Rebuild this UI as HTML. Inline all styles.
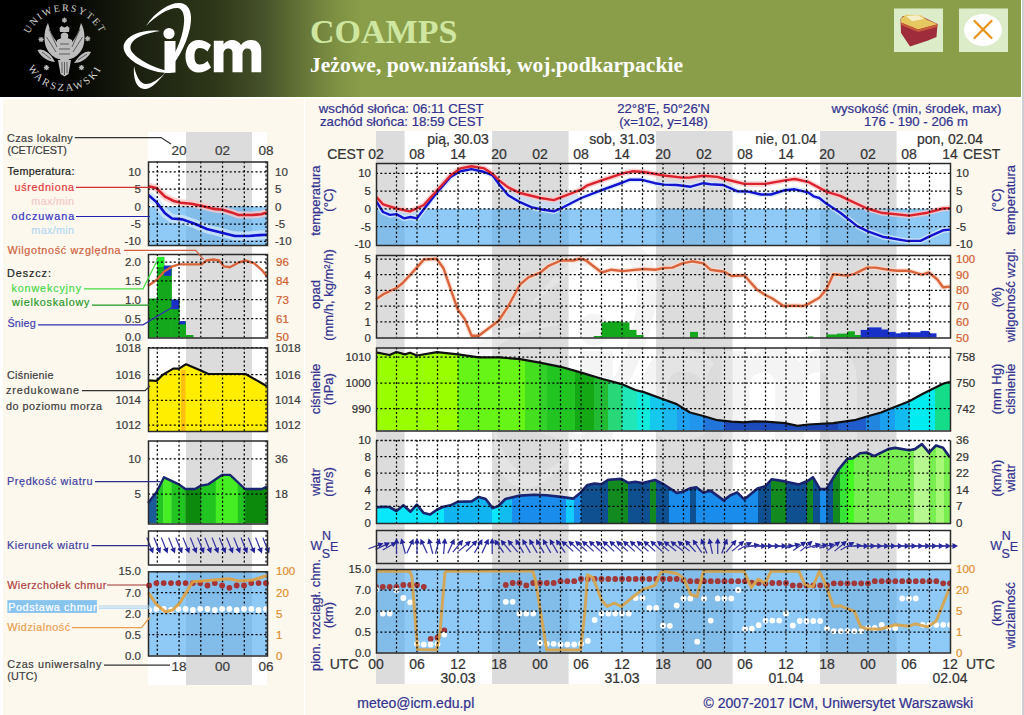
<!DOCTYPE html><html><head><meta charset="utf-8"><style>html,body{margin:0;padding:0;background:#fff;width:1024px;height:715px;overflow:hidden}svg{display:block}</style></head><body>
<svg width="1024" height="715" viewBox="0 0 1024 715">
<rect x="0.00" y="0.00" width="1024.00" height="715.00" fill="#ffffff" />
<rect x="3.00" y="99.00" width="1018.00" height="616.00" fill="#fcf8ee" />
<line x1="304.5" y1="99" x2="304.5" y2="715" stroke="#ffffff" stroke-width="1"/>
<rect x="1022.00" y="0.00" width="2.00" height="715.00" fill="#cfcfcf" />
<defs><linearGradient id="hg" x1="0" y1="0" x2="1021" y2="0" gradientUnits="userSpaceOnUse"><stop offset="0.0000" stop-color="#000"/><stop offset="0.0548" stop-color="#000"/><stop offset="0.1469" stop-color="#1e2412"/><stop offset="0.2125" stop-color="#2f3819"/><stop offset="0.2586" stop-color="#46522a"/><stop offset="0.2889" stop-color="#606f35"/><stop offset="0.3271" stop-color="#7d8f42"/><stop offset="0.3546" stop-color="#8a9e4a"/><stop offset="1.0000" stop-color="#8a9e4a"/></linearGradient></defs>
<rect x="0" y="0" width="1021" height="97" fill="url(#hg)"/>
<rect x="376.00" y="131.00" width="574.00" height="553.00" fill="#ffffff" />
<rect x="376.00" y="131.00" width="28.58" height="553.00" fill="#dcdcdc" />
<rect x="492.05" y="131.00" width="76.53" height="553.00" fill="#dcdcdc" />
<rect x="656.05" y="131.00" width="76.53" height="553.00" fill="#dcdcdc" />
<rect x="820.05" y="131.00" width="76.53" height="553.00" fill="#dcdcdc" />
<rect x="148.00" y="132.00" width="119.00" height="553.00" fill="#ffffff" />
<rect x="186.00" y="132.00" width="66.00" height="553.00" fill="#dcdcdc" />
<g transform="translate(112.5,234.35) scale(2.85)" fill="#ebebeb" fill-opacity="0.55"><path d="M 146,26 C 156,10 172,2 180,3 C 190,4 193,14 190,28 C 186,46 176,64 164,74 C 170,62 180,46 183,30 C 186,16 183,8 177,8 C 168,8 156,16 146,26 Z"/><path d="M 165,73 C 158,82 150,90 144,89 C 136,88 133,78 134,66 C 136,76 140,84 146,84 C 152,84 159,79 165,73 Z"/><path d="M 160,31 C 145,29 128,34 124,44 C 121,54 134,66 158,72 C 164,73 170,73 175,73 C 160,70 140,62 132,52 C 127,44 134,35 160,31 Z"/><circle cx="169" cy="33.5" r="5.6"/><rect x="164.5" y="41" width="11" height="31.5"/><path d="M 211,45 C 207,41.5 203,40 198.5,40 C 190,40 185.5,47.5 185.5,56.2 C 185.5,65 190,72.5 198.5,72.5 C 203,72.5 207,71 211,67.5 L 207.5,61 C 205,63.5 202.5,64.5 199.5,64.5 C 195.5,64.5 194.5,60 194.5,56.2 C 194.5,52.5 195.5,48 199.5,48 C 202.5,48 205,49 207.5,51.5 Z"/><path d="M 213.8,72.3 L 213.8,40.8 L 223.5,40.8 L 223.5,44.5 C 225.5,41.5 228.5,40 232,40 C 236,40 239.5,42 241,45 C 243.5,41.5 247,40 251,40 C 257.5,40 261.2,44.5 261.2,51 L 261.2,72.3 L 251.5,72.3 L 251.5,53 C 251.5,50 250,48.5 247.5,48.5 C 244.5,48.5 242.5,50.5 242.5,54 L 242.5,72.3 L 232.5,72.3 L 232.5,53 C 232.5,50 231,48.5 228.5,48.5 C 225.5,48.5 223.5,50.5 223.5,54 L 223.5,72.3 Z"/></g>
<clipPath id="cT"><rect x="376.0" y="163" width="574.0" height="82"/></clipPath>
<g clip-path="url(#cT)">
<rect x="376.0" y="208.8" width="574.0" height="36.2" fill="#4aa8f0" fill-opacity="0.62"/>
<polygon points="376.0,198.1 378.0,200.3 380.0,202.5 382.0,204.7 384.0,206.1 386.0,206.7 388.0,207.4 390.0,208.0 392.0,208.6 394.0,209.2 396.0,209.9 398.0,210.3 400.0,210.8 402.0,211.2 404.0,211.6 406.0,212.0 408.0,212.4 410.0,212.7 412.0,211.9 414.0,211.1 416.0,210.3 418.0,209.4 420.0,208.4 422.0,207.4 424.0,206.3 424.0,208.9 422.0,211.6 420.0,214.2 418.0,216.8 416.0,218.2 414.0,217.8 412.0,217.3 410.0,217.1 408.0,217.5 406.0,218.0 404.0,218.3 402.0,217.2 400.0,216.1 398.0,215.0 396.0,214.2 394.0,214.4 392.0,214.7 390.0,214.9 388.0,214.1 386.0,213.2 384.0,212.4 382.0,210.4 380.0,207.2 378.0,204.0 376.0,200.8" fill="#c4def6" fill-opacity="0.75"/>
<polygon points="500.0,182.7 503.2,185.1 506.5,187.6 509.8,189.6 513.0,191.2 516.2,192.7 519.5,194.3 522.8,195.2 526.0,196.0 529.2,196.8 532.5,197.6 535.8,198.4 539.0,199.2 542.2,199.8 545.5,200.3 548.8,200.8 552.0,201.3 555.2,201.0 558.5,199.7 561.8,198.4 565.0,197.2 568.2,196.0 571.5,194.7 574.8,193.5 578.0,192.2 578.0,199.6 574.8,201.3 571.5,203.0 568.2,204.7 565.0,206.3 561.8,208.0 558.5,209.4 555.2,210.7 552.0,211.0 548.8,210.5 545.5,210.0 542.2,209.5 539.0,208.9 535.8,208.1 532.5,207.4 529.2,206.2 526.0,204.8 522.8,203.4 519.5,201.9 516.2,200.0 513.0,198.0 509.8,196.1 506.5,193.2 503.2,189.4 500.0,185.5" fill="#c4def6" fill-opacity="0.75"/>
<polyline points="376.0,200.8 383.0,212.0 390.0,214.9 396.4,214.1 404.1,218.4 410.5,217.0 416.8,218.4 423.8,209.2 437.2,192.3 450.5,176.9 460.4,171.3 471.6,169.1 484.3,172.0 492.7,175.5 499.8,185.3 508.2,195.2 520.0,202.2 531.3,207.1 540.4,209.2 553.8,211.3 560.8,208.5 581.2,198.0 601.6,190.2 622.7,182.5 629.7,179.7 641.0,179.7 655.0,183.2 664.0,184.6 676.7,185.0 690.7,186.7 703.4,183.2 710.4,184.2 723.1,185.0 737.1,191.2 748.4,191.6 761.0,194.5 770.9,194.5 785.0,190.2 794.8,189.3 808.0,192.3 813.6,196.3 819.3,198.0 826.3,203.6 840.3,212.7 857.2,226.1 868.5,231.7 882.5,236.7 906.5,240.9 920.5,240.9 929.0,236.7 943.0,230.3 950.0,229.6" fill="none" stroke="#d4e8fb" stroke-opacity="0.8" stroke-width="5.5" stroke-linejoin="round"/>
<polyline points="376.0,196.6 383.0,204.3 396.4,208.5 409.8,211.3 416.8,208.5 423.8,205.0 437.2,190.2 450.5,175.5 460.4,168.4 471.6,166.3 484.3,168.4 492.7,174.0 499.8,181.0 508.2,187.4 520.0,193.0 540.4,198.0 553.8,200.1 560.8,197.3 581.2,189.5 587.5,185.3 601.6,180.4 622.7,173.4 632.5,171.3 643.8,172.0 664.0,175.5 682.3,177.6 689.3,177.6 703.4,175.8 717.4,176.9 724.5,179.0 744.2,183.9 765.3,183.9 785.0,180.4 794.8,179.0 808.0,181.8 826.3,191.6 840.3,195.9 847.4,199.4 867.1,208.5 881.1,212.7 909.3,215.6 927.5,212.7 943.0,208.5 950.0,208.1" fill="none" stroke="#f9c8c8" stroke-opacity="0.8" stroke-width="5.5" stroke-linejoin="round"/>
<polyline points="376.0,200.8 383.0,212.0 390.0,214.9 396.4,214.1 404.1,218.4 410.5,217.0 416.8,218.4 423.8,209.2 437.2,192.3 450.5,176.9 460.4,171.3 471.6,169.1 484.3,172.0 492.7,175.5 499.8,185.3 508.2,195.2 520.0,202.2 531.3,207.1 540.4,209.2 553.8,211.3 560.8,208.5 581.2,198.0 601.6,190.2 622.7,182.5 629.7,179.7 641.0,179.7 655.0,183.2 664.0,184.6 676.7,185.0 690.7,186.7 703.4,183.2 710.4,184.2 723.1,185.0 737.1,191.2 748.4,191.6 761.0,194.5 770.9,194.5 785.0,190.2 794.8,189.3 808.0,192.3 813.6,196.3 819.3,198.0 826.3,203.6 840.3,212.7 857.2,226.1 868.5,231.7 882.5,236.7 906.5,240.9 920.5,240.9 929.0,236.7 943.0,230.3 950.0,229.6" fill="none" stroke="#1414d0" stroke-width="2.4" stroke-linejoin="round"/>
<polyline points="376.0,196.6 383.0,204.3 396.4,208.5 409.8,211.3 416.8,208.5 423.8,205.0 437.2,190.2 450.5,175.5 460.4,168.4 471.6,166.3 484.3,168.4 492.7,174.0 499.8,181.0 508.2,187.4 520.0,193.0 540.4,198.0 553.8,200.1 560.8,197.3 581.2,189.5 587.5,185.3 601.6,180.4 622.7,173.4 632.5,171.3 643.8,172.0 664.0,175.5 682.3,177.6 689.3,177.6 703.4,175.8 717.4,176.9 724.5,179.0 744.2,183.9 765.3,183.9 785.0,180.4 794.8,179.0 808.0,181.8 826.3,191.6 840.3,195.9 847.4,199.4 867.1,208.5 881.1,212.7 909.3,215.6 927.5,212.7 943.0,208.5 950.0,208.1" fill="none" stroke="#dc2430" stroke-width="2.4" stroke-linejoin="round"/>
</g>
<line x1="396.50" y1="163" x2="396.50" y2="245" stroke="#000" stroke-width="1.25" stroke-dasharray="2,2.3"/>
<line x1="417.00" y1="163" x2="417.00" y2="245" stroke="#000" stroke-width="1.25" stroke-dasharray="2,2.3"/>
<line x1="437.50" y1="163" x2="437.50" y2="245" stroke="#000" stroke-width="1.25" stroke-dasharray="2,2.3"/>
<line x1="458.00" y1="163" x2="458.00" y2="245" stroke="#000" stroke-width="1.25" stroke-dasharray="2,2.3"/>
<line x1="478.50" y1="163" x2="478.50" y2="245" stroke="#000" stroke-width="1.25" stroke-dasharray="2,2.3"/>
<line x1="499.00" y1="163" x2="499.00" y2="245" stroke="#000" stroke-width="1.25" stroke-dasharray="2,2.3"/>
<line x1="519.50" y1="163" x2="519.50" y2="245" stroke="#000" stroke-width="1.25" stroke-dasharray="2,2.3"/>
<line x1="540.00" y1="163" x2="540.00" y2="245" stroke="#000" stroke-width="1.25" stroke-dasharray="2,2.3"/>
<line x1="560.50" y1="163" x2="560.50" y2="245" stroke="#000" stroke-width="1.25" stroke-dasharray="2,2.3"/>
<line x1="581.00" y1="163" x2="581.00" y2="245" stroke="#000" stroke-width="1.25" stroke-dasharray="2,2.3"/>
<line x1="601.50" y1="163" x2="601.50" y2="245" stroke="#000" stroke-width="1.25" stroke-dasharray="2,2.3"/>
<line x1="622.00" y1="163" x2="622.00" y2="245" stroke="#000" stroke-width="1.25" stroke-dasharray="2,2.3"/>
<line x1="642.50" y1="163" x2="642.50" y2="245" stroke="#000" stroke-width="1.25" stroke-dasharray="2,2.3"/>
<line x1="663.00" y1="163" x2="663.00" y2="245" stroke="#000" stroke-width="1.25" stroke-dasharray="2,2.3"/>
<line x1="683.50" y1="163" x2="683.50" y2="245" stroke="#000" stroke-width="1.25" stroke-dasharray="2,2.3"/>
<line x1="704.00" y1="163" x2="704.00" y2="245" stroke="#000" stroke-width="1.25" stroke-dasharray="2,2.3"/>
<line x1="724.50" y1="163" x2="724.50" y2="245" stroke="#000" stroke-width="1.25" stroke-dasharray="2,2.3"/>
<line x1="745.00" y1="163" x2="745.00" y2="245" stroke="#000" stroke-width="1.25" stroke-dasharray="2,2.3"/>
<line x1="765.50" y1="163" x2="765.50" y2="245" stroke="#000" stroke-width="1.25" stroke-dasharray="2,2.3"/>
<line x1="786.00" y1="163" x2="786.00" y2="245" stroke="#000" stroke-width="1.25" stroke-dasharray="2,2.3"/>
<line x1="806.50" y1="163" x2="806.50" y2="245" stroke="#000" stroke-width="1.25" stroke-dasharray="2,2.3"/>
<line x1="827.00" y1="163" x2="827.00" y2="245" stroke="#000" stroke-width="1.25" stroke-dasharray="2,2.3"/>
<line x1="847.50" y1="163" x2="847.50" y2="245" stroke="#000" stroke-width="1.25" stroke-dasharray="2,2.3"/>
<line x1="868.00" y1="163" x2="868.00" y2="245" stroke="#000" stroke-width="1.25" stroke-dasharray="2,2.3"/>
<line x1="888.50" y1="163" x2="888.50" y2="245" stroke="#000" stroke-width="1.25" stroke-dasharray="2,2.3"/>
<line x1="909.00" y1="163" x2="909.00" y2="245" stroke="#000" stroke-width="1.25" stroke-dasharray="2,2.3"/>
<line x1="929.50" y1="163" x2="929.50" y2="245" stroke="#000" stroke-width="1.25" stroke-dasharray="2,2.3"/>
<line x1="376.0" y1="173.30" x2="950.0" y2="173.30" stroke="#000" stroke-width="1.25" stroke-dasharray="2,2.3"/>
<line x1="376.0" y1="191.05" x2="950.0" y2="191.05" stroke="#000" stroke-width="1.25" stroke-dasharray="2,2.3"/>
<line x1="376.0" y1="208.80" x2="950.0" y2="208.80" stroke="#000" stroke-width="1.25" stroke-dasharray="2,2.3"/>
<line x1="376.0" y1="226.55" x2="950.0" y2="226.55" stroke="#000" stroke-width="1.25" stroke-dasharray="2,2.3"/>
<rect x="376.50" y="163.50" width="574.00" height="82.00" fill="none" stroke="#2a2a2a" stroke-width="1.5"/>
<rect x="593.80" y="336.00" width="8.30" height="1.50" fill="#14a81c" />
<rect x="601.60" y="322.40" width="6.80" height="15.10" fill="#14a81c" />
<rect x="607.90" y="321.40" width="13.90" height="16.10" fill="#14a81c" />
<rect x="621.30" y="322.40" width="8.20" height="15.10" fill="#14a81c" />
<rect x="629.00" y="329.90" width="7.50" height="7.60" fill="#14a81c" />
<rect x="636.00" y="335.00" width="7.50" height="2.50" fill="#14a81c" />
<rect x="690.00" y="331.90" width="8.00" height="5.60" fill="#14a81c" />
<rect x="808.00" y="336.50" width="5.50" height="1.00" fill="#14a81c" />
<rect x="826.30" y="334.40" width="11.20" height="3.10" fill="#14a81c" />
<rect x="837.00" y="333.60" width="10.90" height="3.90" fill="#14a81c" />
<rect x="847.40" y="331.30" width="7.50" height="6.20" fill="#14a81c" />
<rect x="854.40" y="335.00" width="6.80" height="2.50" fill="#14a81c" />
<rect x="860.70" y="329.90" width="6.90" height="7.60" fill="#1830c8" />
<rect x="867.10" y="327.40" width="14.50" height="10.10" fill="#1830c8" />
<rect x="881.10" y="329.50" width="7.60" height="8.00" fill="#1830c8" />
<rect x="888.20" y="331.90" width="7.50" height="5.60" fill="#1830c8" />
<rect x="895.20" y="333.30" width="6.10" height="4.20" fill="#1830c8" />
<rect x="900.80" y="332.30" width="20.20" height="5.20" fill="#1830c8" />
<rect x="920.50" y="330.90" width="9.00" height="6.60" fill="#1830c8" />
<rect x="929.00" y="333.30" width="7.50" height="4.20" fill="#1830c8" />
<polyline points="376.0,299.2 384.4,293.6 396.4,288.0 402.7,283.0 416.8,267.6 423.8,259.6 436.5,258.7 443.5,268.3 457.6,309.1 464.6,318.9 471.6,335.8 478.7,335.8 498.4,321.0 508.2,306.3 520.0,284.5 528.4,277.4 540.4,272.5 548.1,266.2 560.8,260.5 573.4,260.5 580.5,258.7 586.1,260.5 601.6,272.5 611.4,269.7 622.7,271.1 643.8,269.0 655.0,269.7 664.0,268.0 672.4,267.6 682.3,263.4 692.1,261.3 703.4,263.4 710.4,269.7 724.5,271.8 731.5,276.0 744.2,275.3 756.8,289.4 765.3,295.0 772.3,298.5 783.5,306.0 793.4,305.6 803.2,306.0 808.0,304.1 819.3,297.8 826.3,289.4 833.3,274.2 847.4,275.6 854.4,273.9 867.1,267.6 875.5,267.6 888.2,269.7 896.6,270.8 909.3,270.8 921.9,274.6 929.0,272.5 937.4,279.5 943.0,287.3 950.0,286.6" fill="none" stroke="#fbd8c8" stroke-width="5" stroke-linejoin="round" stroke-opacity="0.7"/>
<polyline points="376.0,299.2 384.4,293.6 396.4,288.0 402.7,283.0 416.8,267.6 423.8,259.6 436.5,258.7 443.5,268.3 457.6,309.1 464.6,318.9 471.6,335.8 478.7,335.8 498.4,321.0 508.2,306.3 520.0,284.5 528.4,277.4 540.4,272.5 548.1,266.2 560.8,260.5 573.4,260.5 580.5,258.7 586.1,260.5 601.6,272.5 611.4,269.7 622.7,271.1 643.8,269.0 655.0,269.7 664.0,268.0 672.4,267.6 682.3,263.4 692.1,261.3 703.4,263.4 710.4,269.7 724.5,271.8 731.5,276.0 744.2,275.3 756.8,289.4 765.3,295.0 772.3,298.5 783.5,306.0 793.4,305.6 803.2,306.0 808.0,304.1 819.3,297.8 826.3,289.4 833.3,274.2 847.4,275.6 854.4,273.9 867.1,267.6 875.5,267.6 888.2,269.7 896.6,270.8 909.3,270.8 921.9,274.6 929.0,272.5 937.4,279.5 943.0,287.3 950.0,286.6" fill="none" stroke="#d9643c" stroke-width="2.4" stroke-linejoin="round"/>
<line x1="396.50" y1="255" x2="396.50" y2="337.5" stroke="#000" stroke-width="1.25" stroke-dasharray="2,2.3"/>
<line x1="417.00" y1="255" x2="417.00" y2="337.5" stroke="#000" stroke-width="1.25" stroke-dasharray="2,2.3"/>
<line x1="437.50" y1="255" x2="437.50" y2="337.5" stroke="#000" stroke-width="1.25" stroke-dasharray="2,2.3"/>
<line x1="458.00" y1="255" x2="458.00" y2="337.5" stroke="#000" stroke-width="1.25" stroke-dasharray="2,2.3"/>
<line x1="478.50" y1="255" x2="478.50" y2="337.5" stroke="#000" stroke-width="1.25" stroke-dasharray="2,2.3"/>
<line x1="499.00" y1="255" x2="499.00" y2="337.5" stroke="#000" stroke-width="1.25" stroke-dasharray="2,2.3"/>
<line x1="519.50" y1="255" x2="519.50" y2="337.5" stroke="#000" stroke-width="1.25" stroke-dasharray="2,2.3"/>
<line x1="540.00" y1="255" x2="540.00" y2="337.5" stroke="#000" stroke-width="1.25" stroke-dasharray="2,2.3"/>
<line x1="560.50" y1="255" x2="560.50" y2="337.5" stroke="#000" stroke-width="1.25" stroke-dasharray="2,2.3"/>
<line x1="581.00" y1="255" x2="581.00" y2="337.5" stroke="#000" stroke-width="1.25" stroke-dasharray="2,2.3"/>
<line x1="601.50" y1="255" x2="601.50" y2="337.5" stroke="#000" stroke-width="1.25" stroke-dasharray="2,2.3"/>
<line x1="622.00" y1="255" x2="622.00" y2="337.5" stroke="#000" stroke-width="1.25" stroke-dasharray="2,2.3"/>
<line x1="642.50" y1="255" x2="642.50" y2="337.5" stroke="#000" stroke-width="1.25" stroke-dasharray="2,2.3"/>
<line x1="663.00" y1="255" x2="663.00" y2="337.5" stroke="#000" stroke-width="1.25" stroke-dasharray="2,2.3"/>
<line x1="683.50" y1="255" x2="683.50" y2="337.5" stroke="#000" stroke-width="1.25" stroke-dasharray="2,2.3"/>
<line x1="704.00" y1="255" x2="704.00" y2="337.5" stroke="#000" stroke-width="1.25" stroke-dasharray="2,2.3"/>
<line x1="724.50" y1="255" x2="724.50" y2="337.5" stroke="#000" stroke-width="1.25" stroke-dasharray="2,2.3"/>
<line x1="745.00" y1="255" x2="745.00" y2="337.5" stroke="#000" stroke-width="1.25" stroke-dasharray="2,2.3"/>
<line x1="765.50" y1="255" x2="765.50" y2="337.5" stroke="#000" stroke-width="1.25" stroke-dasharray="2,2.3"/>
<line x1="786.00" y1="255" x2="786.00" y2="337.5" stroke="#000" stroke-width="1.25" stroke-dasharray="2,2.3"/>
<line x1="806.50" y1="255" x2="806.50" y2="337.5" stroke="#000" stroke-width="1.25" stroke-dasharray="2,2.3"/>
<line x1="827.00" y1="255" x2="827.00" y2="337.5" stroke="#000" stroke-width="1.25" stroke-dasharray="2,2.3"/>
<line x1="847.50" y1="255" x2="847.50" y2="337.5" stroke="#000" stroke-width="1.25" stroke-dasharray="2,2.3"/>
<line x1="868.00" y1="255" x2="868.00" y2="337.5" stroke="#000" stroke-width="1.25" stroke-dasharray="2,2.3"/>
<line x1="888.50" y1="255" x2="888.50" y2="337.5" stroke="#000" stroke-width="1.25" stroke-dasharray="2,2.3"/>
<line x1="909.00" y1="255" x2="909.00" y2="337.5" stroke="#000" stroke-width="1.25" stroke-dasharray="2,2.3"/>
<line x1="929.50" y1="255" x2="929.50" y2="337.5" stroke="#000" stroke-width="1.25" stroke-dasharray="2,2.3"/>
<line x1="376.0" y1="259.00" x2="950.0" y2="259.00" stroke="#000" stroke-width="1.25" stroke-dasharray="2,2.3"/>
<line x1="376.0" y1="274.70" x2="950.0" y2="274.70" stroke="#000" stroke-width="1.25" stroke-dasharray="2,2.3"/>
<line x1="376.0" y1="290.40" x2="950.0" y2="290.40" stroke="#000" stroke-width="1.25" stroke-dasharray="2,2.3"/>
<line x1="376.0" y1="306.10" x2="950.0" y2="306.10" stroke="#000" stroke-width="1.25" stroke-dasharray="2,2.3"/>
<line x1="376.0" y1="321.80" x2="950.0" y2="321.80" stroke="#000" stroke-width="1.25" stroke-dasharray="2,2.3"/>
<rect x="376.50" y="255.50" width="574.00" height="82.50" fill="none" stroke="#2a2a2a" stroke-width="1.5"/>
<clipPath id="cP"><polygon points="376.0,352.3 389.6,355.0 396.4,352.0 405.0,354.4 410.0,352.7 417.0,355.5 437.0,352.2 458.0,354.4 478.5,357.3 499.0,357.3 520.0,359.1 539.7,362.6 560.8,366.8 580.5,372.4 601.6,378.8 622.7,384.4 635.3,390.0 643.8,392.1 664.0,399.5 676.7,404.1 690.0,412.5 703.4,416.0 717.4,420.2 731.5,421.7 744.2,422.4 754.0,421.4 765.3,421.7 785.0,423.1 797.6,425.9 808.0,424.5 833.3,423.1 854.4,420.2 868.5,416.0 881.1,412.5 889.6,409.0 909.3,401.3 921.9,394.2 943.0,383.7 950.0,381.8 950.0,430.5 376.0,430.5"/></clipPath>
<g clip-path="url(#cP)">
<rect x="376.00" y="347.50" width="82.30" height="83.00" fill="#99ff00" />
<rect x="458.00" y="347.50" width="67.30" height="83.00" fill="#66f516" />
<rect x="525.00" y="347.50" width="15.30" height="83.00" fill="#44e020" />
<rect x="540.00" y="347.50" width="7.30" height="83.00" fill="#33d02a" />
<rect x="547.00" y="347.50" width="28.30" height="83.00" fill="#22c422" />
<rect x="575.00" y="347.50" width="19.30" height="83.00" fill="#14a814" />
<rect x="594.00" y="347.50" width="14.30" height="83.00" fill="#22bb33" />
<rect x="608.00" y="347.50" width="14.30" height="83.00" fill="#28d878" />
<rect x="622.00" y="347.50" width="15.30" height="83.00" fill="#20e6b8" />
<rect x="637.00" y="347.50" width="13.30" height="83.00" fill="#12eadc" />
<rect x="650.00" y="347.50" width="14.30" height="83.00" fill="#14c8ee" />
<rect x="664.00" y="347.50" width="13.30" height="83.00" fill="#1cb8ee" />
<rect x="677.00" y="347.50" width="13.30" height="83.00" fill="#1fa0f0" />
<rect x="690.00" y="347.50" width="13.30" height="83.00" fill="#2296ec" />
<rect x="703.00" y="347.50" width="21.30" height="83.00" fill="#2276da" />
<rect x="724.00" y="347.50" width="84.30" height="83.00" fill="#1c4cbc" />
<rect x="808.00" y="347.50" width="30.30" height="83.00" fill="#1c46b8" />
<rect x="838.00" y="347.50" width="28.30" height="83.00" fill="#1f5ccc" />
<rect x="866.00" y="347.50" width="14.30" height="83.00" fill="#2286de" />
<rect x="880.00" y="347.50" width="15.30" height="83.00" fill="#1aa0ee" />
<rect x="895.00" y="347.50" width="15.30" height="83.00" fill="#12bcee" />
<rect x="910.00" y="347.50" width="25.30" height="83.00" fill="#00ecf0" />
<rect x="935.00" y="347.50" width="15.30" height="83.00" fill="#14dc88" />
</g>
<polyline points="376.0,352.3 389.6,355.0 396.4,352.0 405.0,354.4 410.0,352.7 417.0,355.5 437.0,352.2 458.0,354.4 478.5,357.3 499.0,357.3 520.0,359.1 539.7,362.6 560.8,366.8 580.5,372.4 601.6,378.8 622.7,384.4 635.3,390.0 643.8,392.1 664.0,399.5 676.7,404.1 690.0,412.5 703.4,416.0 717.4,420.2 731.5,421.7 744.2,422.4 754.0,421.4 765.3,421.7 785.0,423.1 797.6,425.9 808.0,424.5 833.3,423.1 854.4,420.2 868.5,416.0 881.1,412.5 889.6,409.0 909.3,401.3 921.9,394.2 943.0,383.7 950.0,381.8" fill="none" stroke="#101010" stroke-width="2.2" stroke-linejoin="round"/>
<line x1="396.50" y1="347.5" x2="396.50" y2="430.5" stroke="#000" stroke-width="1.25" stroke-dasharray="2,2.3"/>
<line x1="417.00" y1="347.5" x2="417.00" y2="430.5" stroke="#000" stroke-width="1.25" stroke-dasharray="2,2.3"/>
<line x1="437.50" y1="347.5" x2="437.50" y2="430.5" stroke="#000" stroke-width="1.25" stroke-dasharray="2,2.3"/>
<line x1="458.00" y1="347.5" x2="458.00" y2="430.5" stroke="#000" stroke-width="1.25" stroke-dasharray="2,2.3"/>
<line x1="478.50" y1="347.5" x2="478.50" y2="430.5" stroke="#000" stroke-width="1.25" stroke-dasharray="2,2.3"/>
<line x1="499.00" y1="347.5" x2="499.00" y2="430.5" stroke="#000" stroke-width="1.25" stroke-dasharray="2,2.3"/>
<line x1="519.50" y1="347.5" x2="519.50" y2="430.5" stroke="#000" stroke-width="1.25" stroke-dasharray="2,2.3"/>
<line x1="540.00" y1="347.5" x2="540.00" y2="430.5" stroke="#000" stroke-width="1.25" stroke-dasharray="2,2.3"/>
<line x1="560.50" y1="347.5" x2="560.50" y2="430.5" stroke="#000" stroke-width="1.25" stroke-dasharray="2,2.3"/>
<line x1="581.00" y1="347.5" x2="581.00" y2="430.5" stroke="#000" stroke-width="1.25" stroke-dasharray="2,2.3"/>
<line x1="601.50" y1="347.5" x2="601.50" y2="430.5" stroke="#000" stroke-width="1.25" stroke-dasharray="2,2.3"/>
<line x1="622.00" y1="347.5" x2="622.00" y2="430.5" stroke="#000" stroke-width="1.25" stroke-dasharray="2,2.3"/>
<line x1="642.50" y1="347.5" x2="642.50" y2="430.5" stroke="#000" stroke-width="1.25" stroke-dasharray="2,2.3"/>
<line x1="663.00" y1="347.5" x2="663.00" y2="430.5" stroke="#000" stroke-width="1.25" stroke-dasharray="2,2.3"/>
<line x1="683.50" y1="347.5" x2="683.50" y2="430.5" stroke="#000" stroke-width="1.25" stroke-dasharray="2,2.3"/>
<line x1="704.00" y1="347.5" x2="704.00" y2="430.5" stroke="#000" stroke-width="1.25" stroke-dasharray="2,2.3"/>
<line x1="724.50" y1="347.5" x2="724.50" y2="430.5" stroke="#000" stroke-width="1.25" stroke-dasharray="2,2.3"/>
<line x1="745.00" y1="347.5" x2="745.00" y2="430.5" stroke="#000" stroke-width="1.25" stroke-dasharray="2,2.3"/>
<line x1="765.50" y1="347.5" x2="765.50" y2="430.5" stroke="#000" stroke-width="1.25" stroke-dasharray="2,2.3"/>
<line x1="786.00" y1="347.5" x2="786.00" y2="430.5" stroke="#000" stroke-width="1.25" stroke-dasharray="2,2.3"/>
<line x1="806.50" y1="347.5" x2="806.50" y2="430.5" stroke="#000" stroke-width="1.25" stroke-dasharray="2,2.3"/>
<line x1="827.00" y1="347.5" x2="827.00" y2="430.5" stroke="#000" stroke-width="1.25" stroke-dasharray="2,2.3"/>
<line x1="847.50" y1="347.5" x2="847.50" y2="430.5" stroke="#000" stroke-width="1.25" stroke-dasharray="2,2.3"/>
<line x1="868.00" y1="347.5" x2="868.00" y2="430.5" stroke="#000" stroke-width="1.25" stroke-dasharray="2,2.3"/>
<line x1="888.50" y1="347.5" x2="888.50" y2="430.5" stroke="#000" stroke-width="1.25" stroke-dasharray="2,2.3"/>
<line x1="909.00" y1="347.5" x2="909.00" y2="430.5" stroke="#000" stroke-width="1.25" stroke-dasharray="2,2.3"/>
<line x1="929.50" y1="347.5" x2="929.50" y2="430.5" stroke="#000" stroke-width="1.25" stroke-dasharray="2,2.3"/>
<line x1="376.0" y1="357.00" x2="950.0" y2="357.00" stroke="#000" stroke-width="1.25" stroke-dasharray="2,2.3"/>
<line x1="376.0" y1="383.00" x2="950.0" y2="383.00" stroke="#000" stroke-width="1.25" stroke-dasharray="2,2.3"/>
<line x1="376.0" y1="408.50" x2="950.0" y2="408.50" stroke="#000" stroke-width="1.25" stroke-dasharray="2,2.3"/>
<rect x="376.50" y="348.00" width="574.00" height="83.00" fill="none" stroke="#2a2a2a" stroke-width="1.5"/>
<clipPath id="cW"><polygon points="376.0,507.4 383.0,506.7 389.4,507.0 396.4,511.0 403.4,505.3 410.5,511.7 416.8,504.6 423.8,513.1 430.1,514.5 437.2,509.5 443.5,506.7 450.5,505.3 457.6,501.8 471.6,501.4 478.7,496.9 485.7,499.0 492.7,508.1 498.4,506.0 505.4,499.0 520.0,495.6 534.1,494.8 546.7,495.2 560.8,496.9 573.4,498.6 580.5,492.7 587.5,484.9 594.5,483.5 601.6,484.2 608.6,479.7 621.3,478.9 628.3,482.8 635.3,481.7 642.4,483.1 655.0,480.0 664.0,484.5 676.7,492.9 682.3,492.0 690.0,488.4 696.3,487.3 703.4,492.7 710.4,490.6 723.8,500.4 730.1,495.5 737.1,492.4 744.2,499.4 757.5,488.4 765.3,486.3 771.6,479.3 785.0,481.4 799.0,484.5 808.0,480.7 812.9,477.2 820.0,489.1 826.3,489.1 839.0,468.8 847.4,458.9 853.0,458.2 860.0,453.3 867.1,452.6 874.1,456.1 888.2,449.1 895.2,447.9 909.3,450.2 914.9,449.1 921.9,444.1 929.0,452.6 936.0,445.5 943.0,447.7 950.0,457.5 950.0,523 376.0,523"/></clipPath>
<g clip-path="url(#cW)">
<rect x="376.00" y="440.00" width="68.30" height="83.00" fill="#0ae6fa" />
<rect x="444.00" y="440.00" width="48.30" height="83.00" fill="#10b4f0" />
<rect x="492.00" y="440.00" width="8.30" height="83.00" fill="#0ae6fa" />
<rect x="500.00" y="440.00" width="12.30" height="83.00" fill="#12bcee" />
<rect x="512.00" y="440.00" width="54.30" height="83.00" fill="#1a8cec" />
<rect x="566.00" y="440.00" width="8.30" height="83.00" fill="#12ccff" />
<rect x="574.00" y="440.00" width="7.30" height="83.00" fill="#1a8cec" />
<rect x="581.00" y="440.00" width="27.30" height="83.00" fill="#0e5090" />
<rect x="608.00" y="440.00" width="20.30" height="83.00" fill="#128a20" />
<rect x="628.00" y="440.00" width="22.30" height="83.00" fill="#0e5090" />
<rect x="650.00" y="440.00" width="6.30" height="83.00" fill="#128a20" />
<rect x="656.00" y="440.00" width="13.30" height="83.00" fill="#0e5090" />
<rect x="669.00" y="440.00" width="21.30" height="83.00" fill="#1a8cec" />
<rect x="690.00" y="440.00" width="6.30" height="83.00" fill="#0e5090" />
<rect x="696.00" y="440.00" width="62.30" height="83.00" fill="#1a8cec" />
<rect x="758.00" y="440.00" width="13.30" height="83.00" fill="#0e5090" />
<rect x="771.00" y="440.00" width="15.30" height="83.00" fill="#128a20" />
<rect x="786.00" y="440.00" width="21.30" height="83.00" fill="#0e5090" />
<rect x="807.00" y="440.00" width="6.30" height="83.00" fill="#128a20" />
<rect x="813.00" y="440.00" width="7.30" height="83.00" fill="#0e5090" />
<rect x="820.00" y="440.00" width="6.30" height="83.00" fill="#1a8cec" />
<rect x="826.00" y="440.00" width="7.30" height="83.00" fill="#0e5090" />
<rect x="833.00" y="440.00" width="7.30" height="83.00" fill="#128a20" />
<rect x="840.00" y="440.00" width="7.30" height="83.00" fill="#38e438" />
<rect x="847.00" y="440.00" width="7.30" height="83.00" fill="#44f822" />
<rect x="854.00" y="440.00" width="60.30" height="83.00" fill="#78ee50" />
<rect x="914.00" y="440.00" width="15.30" height="83.00" fill="#b8f890" />
<rect x="929.00" y="440.00" width="7.30" height="83.00" fill="#78ee50" />
<rect x="936.00" y="440.00" width="8.30" height="83.00" fill="#a8f878" />
<rect x="944.00" y="440.00" width="6.30" height="83.00" fill="#78ee50" />
</g>
<polyline points="376.0,507.4 383.0,506.7 389.4,507.0 396.4,511.0 403.4,505.3 410.5,511.7 416.8,504.6 423.8,513.1 430.1,514.5 437.2,509.5 443.5,506.7 450.5,505.3 457.6,501.8 471.6,501.4 478.7,496.9 485.7,499.0 492.7,508.1 498.4,506.0 505.4,499.0 520.0,495.6 534.1,494.8 546.7,495.2 560.8,496.9 573.4,498.6 580.5,492.7 587.5,484.9 594.5,483.5 601.6,484.2 608.6,479.7 621.3,478.9 628.3,482.8 635.3,481.7 642.4,483.1 655.0,480.0 664.0,484.5 676.7,492.9 682.3,492.0 690.0,488.4 696.3,487.3 703.4,492.7 710.4,490.6 723.8,500.4 730.1,495.5 737.1,492.4 744.2,499.4 757.5,488.4 765.3,486.3 771.6,479.3 785.0,481.4 799.0,484.5 808.0,480.7 812.9,477.2 820.0,489.1 826.3,489.1 839.0,468.8 847.4,458.9 853.0,458.2 860.0,453.3 867.1,452.6 874.1,456.1 888.2,449.1 895.2,447.9 909.3,450.2 914.9,449.1 921.9,444.1 929.0,452.6 936.0,445.5 943.0,447.7 950.0,457.5" fill="none" stroke="#1a2470" stroke-width="2.6" stroke-linejoin="round"/>
<line x1="396.50" y1="440" x2="396.50" y2="523" stroke="#000" stroke-width="1.25" stroke-dasharray="2,2.3"/>
<line x1="417.00" y1="440" x2="417.00" y2="523" stroke="#000" stroke-width="1.25" stroke-dasharray="2,2.3"/>
<line x1="437.50" y1="440" x2="437.50" y2="523" stroke="#000" stroke-width="1.25" stroke-dasharray="2,2.3"/>
<line x1="458.00" y1="440" x2="458.00" y2="523" stroke="#000" stroke-width="1.25" stroke-dasharray="2,2.3"/>
<line x1="478.50" y1="440" x2="478.50" y2="523" stroke="#000" stroke-width="1.25" stroke-dasharray="2,2.3"/>
<line x1="499.00" y1="440" x2="499.00" y2="523" stroke="#000" stroke-width="1.25" stroke-dasharray="2,2.3"/>
<line x1="519.50" y1="440" x2="519.50" y2="523" stroke="#000" stroke-width="1.25" stroke-dasharray="2,2.3"/>
<line x1="540.00" y1="440" x2="540.00" y2="523" stroke="#000" stroke-width="1.25" stroke-dasharray="2,2.3"/>
<line x1="560.50" y1="440" x2="560.50" y2="523" stroke="#000" stroke-width="1.25" stroke-dasharray="2,2.3"/>
<line x1="581.00" y1="440" x2="581.00" y2="523" stroke="#000" stroke-width="1.25" stroke-dasharray="2,2.3"/>
<line x1="601.50" y1="440" x2="601.50" y2="523" stroke="#000" stroke-width="1.25" stroke-dasharray="2,2.3"/>
<line x1="622.00" y1="440" x2="622.00" y2="523" stroke="#000" stroke-width="1.25" stroke-dasharray="2,2.3"/>
<line x1="642.50" y1="440" x2="642.50" y2="523" stroke="#000" stroke-width="1.25" stroke-dasharray="2,2.3"/>
<line x1="663.00" y1="440" x2="663.00" y2="523" stroke="#000" stroke-width="1.25" stroke-dasharray="2,2.3"/>
<line x1="683.50" y1="440" x2="683.50" y2="523" stroke="#000" stroke-width="1.25" stroke-dasharray="2,2.3"/>
<line x1="704.00" y1="440" x2="704.00" y2="523" stroke="#000" stroke-width="1.25" stroke-dasharray="2,2.3"/>
<line x1="724.50" y1="440" x2="724.50" y2="523" stroke="#000" stroke-width="1.25" stroke-dasharray="2,2.3"/>
<line x1="745.00" y1="440" x2="745.00" y2="523" stroke="#000" stroke-width="1.25" stroke-dasharray="2,2.3"/>
<line x1="765.50" y1="440" x2="765.50" y2="523" stroke="#000" stroke-width="1.25" stroke-dasharray="2,2.3"/>
<line x1="786.00" y1="440" x2="786.00" y2="523" stroke="#000" stroke-width="1.25" stroke-dasharray="2,2.3"/>
<line x1="806.50" y1="440" x2="806.50" y2="523" stroke="#000" stroke-width="1.25" stroke-dasharray="2,2.3"/>
<line x1="827.00" y1="440" x2="827.00" y2="523" stroke="#000" stroke-width="1.25" stroke-dasharray="2,2.3"/>
<line x1="847.50" y1="440" x2="847.50" y2="523" stroke="#000" stroke-width="1.25" stroke-dasharray="2,2.3"/>
<line x1="868.00" y1="440" x2="868.00" y2="523" stroke="#000" stroke-width="1.25" stroke-dasharray="2,2.3"/>
<line x1="888.50" y1="440" x2="888.50" y2="523" stroke="#000" stroke-width="1.25" stroke-dasharray="2,2.3"/>
<line x1="909.00" y1="440" x2="909.00" y2="523" stroke="#000" stroke-width="1.25" stroke-dasharray="2,2.3"/>
<line x1="929.50" y1="440" x2="929.50" y2="523" stroke="#000" stroke-width="1.25" stroke-dasharray="2,2.3"/>
<line x1="376.0" y1="456.60" x2="950.0" y2="456.60" stroke="#000" stroke-width="1.25" stroke-dasharray="2,2.3"/>
<line x1="376.0" y1="473.20" x2="950.0" y2="473.20" stroke="#000" stroke-width="1.25" stroke-dasharray="2,2.3"/>
<line x1="376.0" y1="489.80" x2="950.0" y2="489.80" stroke="#000" stroke-width="1.25" stroke-dasharray="2,2.3"/>
<line x1="376.0" y1="506.40" x2="950.0" y2="506.40" stroke="#000" stroke-width="1.25" stroke-dasharray="2,2.3"/>
<polyline points="376.5,440.5 376.5,523.5 950.5,523.5 950.5,440.5" fill="none" stroke="#2a2a2a" stroke-width="1.5"/>
<line x1="376.0" y1="440.5" x2="951.0" y2="440.5" stroke="#1a1a1a" stroke-width="1.6" stroke-dasharray="2.5,1.8"/>
<line x1="396.50" y1="530" x2="396.50" y2="563" stroke="#000" stroke-width="1.25" stroke-dasharray="2,2.3"/>
<line x1="417.00" y1="530" x2="417.00" y2="563" stroke="#000" stroke-width="1.25" stroke-dasharray="2,2.3"/>
<line x1="437.50" y1="530" x2="437.50" y2="563" stroke="#000" stroke-width="1.25" stroke-dasharray="2,2.3"/>
<line x1="458.00" y1="530" x2="458.00" y2="563" stroke="#000" stroke-width="1.25" stroke-dasharray="2,2.3"/>
<line x1="478.50" y1="530" x2="478.50" y2="563" stroke="#000" stroke-width="1.25" stroke-dasharray="2,2.3"/>
<line x1="499.00" y1="530" x2="499.00" y2="563" stroke="#000" stroke-width="1.25" stroke-dasharray="2,2.3"/>
<line x1="519.50" y1="530" x2="519.50" y2="563" stroke="#000" stroke-width="1.25" stroke-dasharray="2,2.3"/>
<line x1="540.00" y1="530" x2="540.00" y2="563" stroke="#000" stroke-width="1.25" stroke-dasharray="2,2.3"/>
<line x1="560.50" y1="530" x2="560.50" y2="563" stroke="#000" stroke-width="1.25" stroke-dasharray="2,2.3"/>
<line x1="581.00" y1="530" x2="581.00" y2="563" stroke="#000" stroke-width="1.25" stroke-dasharray="2,2.3"/>
<line x1="601.50" y1="530" x2="601.50" y2="563" stroke="#000" stroke-width="1.25" stroke-dasharray="2,2.3"/>
<line x1="622.00" y1="530" x2="622.00" y2="563" stroke="#000" stroke-width="1.25" stroke-dasharray="2,2.3"/>
<line x1="642.50" y1="530" x2="642.50" y2="563" stroke="#000" stroke-width="1.25" stroke-dasharray="2,2.3"/>
<line x1="663.00" y1="530" x2="663.00" y2="563" stroke="#000" stroke-width="1.25" stroke-dasharray="2,2.3"/>
<line x1="683.50" y1="530" x2="683.50" y2="563" stroke="#000" stroke-width="1.25" stroke-dasharray="2,2.3"/>
<line x1="704.00" y1="530" x2="704.00" y2="563" stroke="#000" stroke-width="1.25" stroke-dasharray="2,2.3"/>
<line x1="724.50" y1="530" x2="724.50" y2="563" stroke="#000" stroke-width="1.25" stroke-dasharray="2,2.3"/>
<line x1="745.00" y1="530" x2="745.00" y2="563" stroke="#000" stroke-width="1.25" stroke-dasharray="2,2.3"/>
<line x1="765.50" y1="530" x2="765.50" y2="563" stroke="#000" stroke-width="1.25" stroke-dasharray="2,2.3"/>
<line x1="786.00" y1="530" x2="786.00" y2="563" stroke="#000" stroke-width="1.25" stroke-dasharray="2,2.3"/>
<line x1="806.50" y1="530" x2="806.50" y2="563" stroke="#000" stroke-width="1.25" stroke-dasharray="2,2.3"/>
<line x1="827.00" y1="530" x2="827.00" y2="563" stroke="#000" stroke-width="1.25" stroke-dasharray="2,2.3"/>
<line x1="847.50" y1="530" x2="847.50" y2="563" stroke="#000" stroke-width="1.25" stroke-dasharray="2,2.3"/>
<line x1="868.00" y1="530" x2="868.00" y2="563" stroke="#000" stroke-width="1.25" stroke-dasharray="2,2.3"/>
<line x1="888.50" y1="530" x2="888.50" y2="563" stroke="#000" stroke-width="1.25" stroke-dasharray="2,2.3"/>
<line x1="909.00" y1="530" x2="909.00" y2="563" stroke="#000" stroke-width="1.25" stroke-dasharray="2,2.3"/>
<line x1="929.50" y1="530" x2="929.50" y2="563" stroke="#000" stroke-width="1.25" stroke-dasharray="2,2.3"/>
<g transform="translate(376.0,546.0) rotate(70)"><line x1="0" y1="8.0" x2="0" y2="-4.0" stroke="#3434a0" stroke-width="1.25"/><polygon points="0,-8.0 -2.9,-2.5 2.9,-2.5" fill="#24249a"/></g>
<g transform="translate(382.8,546.0) rotate(65)"><line x1="0" y1="8.0" x2="0" y2="-4.0" stroke="#3434a0" stroke-width="1.25"/><polygon points="0,-8.0 -2.9,-2.5 2.9,-2.5" fill="#24249a"/></g>
<g transform="translate(389.7,546.0) rotate(60)"><line x1="0" y1="8.0" x2="0" y2="-4.0" stroke="#3434a0" stroke-width="1.25"/><polygon points="0,-8.0 -2.9,-2.5 2.9,-2.5" fill="#24249a"/></g>
<g transform="translate(396.5,546.0) rotate(0)"><line x1="0" y1="8.0" x2="0" y2="-4.0" stroke="#3434a0" stroke-width="1.25"/><polygon points="0,-8.0 -2.9,-2.5 2.9,-2.5" fill="#24249a"/></g>
<g transform="translate(403.3,546.0) rotate(-15)"><line x1="0" y1="8.0" x2="0" y2="-4.0" stroke="#3434a0" stroke-width="1.25"/><polygon points="0,-8.0 -2.9,-2.5 2.9,-2.5" fill="#24249a"/></g>
<g transform="translate(410.2,546.0) rotate(25)"><line x1="0" y1="8.0" x2="0" y2="-4.0" stroke="#3434a0" stroke-width="1.25"/><polygon points="0,-8.0 -2.9,-2.5 2.9,-2.5" fill="#24249a"/></g>
<g transform="translate(417.0,546.0) rotate(0)"><line x1="0" y1="8.0" x2="0" y2="-4.0" stroke="#3434a0" stroke-width="1.25"/><polygon points="0,-8.0 -2.9,-2.5 2.9,-2.5" fill="#24249a"/></g>
<g transform="translate(423.8,546.0) rotate(-25)"><line x1="0" y1="8.0" x2="0" y2="-4.0" stroke="#3434a0" stroke-width="1.25"/><polygon points="0,-8.0 -2.9,-2.5 2.9,-2.5" fill="#24249a"/></g>
<g transform="translate(430.7,546.0) rotate(-15)"><line x1="0" y1="8.0" x2="0" y2="-4.0" stroke="#3434a0" stroke-width="1.25"/><polygon points="0,-8.0 -2.9,-2.5 2.9,-2.5" fill="#24249a"/></g>
<g transform="translate(437.5,546.0) rotate(15)"><line x1="0" y1="8.0" x2="0" y2="-4.0" stroke="#3434a0" stroke-width="1.25"/><polygon points="0,-8.0 -2.9,-2.5 2.9,-2.5" fill="#24249a"/></g>
<g transform="translate(444.3,546.0) rotate(5)"><line x1="0" y1="8.0" x2="0" y2="-4.0" stroke="#3434a0" stroke-width="1.25"/><polygon points="0,-8.0 -2.9,-2.5 2.9,-2.5" fill="#24249a"/></g>
<g transform="translate(451.2,546.0) rotate(25)"><line x1="0" y1="8.0" x2="0" y2="-4.0" stroke="#3434a0" stroke-width="1.25"/><polygon points="0,-8.0 -2.9,-2.5 2.9,-2.5" fill="#24249a"/></g>
<g transform="translate(458.0,546.0) rotate(40)"><line x1="0" y1="8.0" x2="0" y2="-4.0" stroke="#3434a0" stroke-width="1.25"/><polygon points="0,-8.0 -2.9,-2.5 2.9,-2.5" fill="#24249a"/></g>
<g transform="translate(464.8,546.0) rotate(50)"><line x1="0" y1="8.0" x2="0" y2="-4.0" stroke="#3434a0" stroke-width="1.25"/><polygon points="0,-8.0 -2.9,-2.5 2.9,-2.5" fill="#24249a"/></g>
<g transform="translate(471.7,546.0) rotate(45)"><line x1="0" y1="8.0" x2="0" y2="-4.0" stroke="#3434a0" stroke-width="1.25"/><polygon points="0,-8.0 -2.9,-2.5 2.9,-2.5" fill="#24249a"/></g>
<g transform="translate(478.5,546.0) rotate(30)"><line x1="0" y1="8.0" x2="0" y2="-4.0" stroke="#3434a0" stroke-width="1.25"/><polygon points="0,-8.0 -2.9,-2.5 2.9,-2.5" fill="#24249a"/></g>
<g transform="translate(485.3,546.0) rotate(25)"><line x1="0" y1="8.0" x2="0" y2="-4.0" stroke="#3434a0" stroke-width="1.25"/><polygon points="0,-8.0 -2.9,-2.5 2.9,-2.5" fill="#24249a"/></g>
<g transform="translate(492.2,546.0) rotate(0)"><line x1="0" y1="8.0" x2="0" y2="-4.0" stroke="#3434a0" stroke-width="1.25"/><polygon points="0,-8.0 -2.9,-2.5 2.9,-2.5" fill="#24249a"/></g>
<g transform="translate(499.0,546.0) rotate(-35)"><line x1="0" y1="8.0" x2="0" y2="-4.0" stroke="#3434a0" stroke-width="1.25"/><polygon points="0,-8.0 -2.9,-2.5 2.9,-2.5" fill="#24249a"/></g>
<g transform="translate(505.8,546.0) rotate(-40)"><line x1="0" y1="8.0" x2="0" y2="-4.0" stroke="#3434a0" stroke-width="1.25"/><polygon points="0,-8.0 -2.9,-2.5 2.9,-2.5" fill="#24249a"/></g>
<g transform="translate(512.7,546.0) rotate(-40)"><line x1="0" y1="8.0" x2="0" y2="-4.0" stroke="#3434a0" stroke-width="1.25"/><polygon points="0,-8.0 -2.9,-2.5 2.9,-2.5" fill="#24249a"/></g>
<g transform="translate(519.5,546.0) rotate(-30)"><line x1="0" y1="8.0" x2="0" y2="-4.0" stroke="#3434a0" stroke-width="1.25"/><polygon points="0,-8.0 -2.9,-2.5 2.9,-2.5" fill="#24249a"/></g>
<g transform="translate(526.3,546.0) rotate(-30)"><line x1="0" y1="8.0" x2="0" y2="-4.0" stroke="#3434a0" stroke-width="1.25"/><polygon points="0,-8.0 -2.9,-2.5 2.9,-2.5" fill="#24249a"/></g>
<g transform="translate(533.2,546.0) rotate(-30)"><line x1="0" y1="8.0" x2="0" y2="-4.0" stroke="#3434a0" stroke-width="1.25"/><polygon points="0,-8.0 -2.9,-2.5 2.9,-2.5" fill="#24249a"/></g>
<g transform="translate(540.0,546.0) rotate(-30)"><line x1="0" y1="8.0" x2="0" y2="-4.0" stroke="#3434a0" stroke-width="1.25"/><polygon points="0,-8.0 -2.9,-2.5 2.9,-2.5" fill="#24249a"/></g>
<g transform="translate(546.8,546.0) rotate(-30)"><line x1="0" y1="8.0" x2="0" y2="-4.0" stroke="#3434a0" stroke-width="1.25"/><polygon points="0,-8.0 -2.9,-2.5 2.9,-2.5" fill="#24249a"/></g>
<g transform="translate(553.7,546.0) rotate(-30)"><line x1="0" y1="8.0" x2="0" y2="-4.0" stroke="#3434a0" stroke-width="1.25"/><polygon points="0,-8.0 -2.9,-2.5 2.9,-2.5" fill="#24249a"/></g>
<g transform="translate(560.5,546.0) rotate(-35)"><line x1="0" y1="8.0" x2="0" y2="-4.0" stroke="#3434a0" stroke-width="1.25"/><polygon points="0,-8.0 -2.9,-2.5 2.9,-2.5" fill="#24249a"/></g>
<g transform="translate(567.3,546.0) rotate(-48)"><line x1="0" y1="8.0" x2="0" y2="-4.0" stroke="#3434a0" stroke-width="1.25"/><polygon points="0,-8.0 -2.9,-2.5 2.9,-2.5" fill="#24249a"/></g>
<g transform="translate(574.2,546.0) rotate(-48)"><line x1="0" y1="8.0" x2="0" y2="-4.0" stroke="#3434a0" stroke-width="1.25"/><polygon points="0,-8.0 -2.9,-2.5 2.9,-2.5" fill="#24249a"/></g>
<g transform="translate(581.0,546.0) rotate(-48)"><line x1="0" y1="8.0" x2="0" y2="-4.0" stroke="#3434a0" stroke-width="1.25"/><polygon points="0,-8.0 -2.9,-2.5 2.9,-2.5" fill="#24249a"/></g>
<g transform="translate(587.8,546.0) rotate(-48)"><line x1="0" y1="8.0" x2="0" y2="-4.0" stroke="#3434a0" stroke-width="1.25"/><polygon points="0,-8.0 -2.9,-2.5 2.9,-2.5" fill="#24249a"/></g>
<g transform="translate(594.7,546.0) rotate(-48)"><line x1="0" y1="8.0" x2="0" y2="-4.0" stroke="#3434a0" stroke-width="1.25"/><polygon points="0,-8.0 -2.9,-2.5 2.9,-2.5" fill="#24249a"/></g>
<g transform="translate(601.5,546.0) rotate(-48)"><line x1="0" y1="8.0" x2="0" y2="-4.0" stroke="#3434a0" stroke-width="1.25"/><polygon points="0,-8.0 -2.9,-2.5 2.9,-2.5" fill="#24249a"/></g>
<g transform="translate(608.3,546.0) rotate(-48)"><line x1="0" y1="8.0" x2="0" y2="-4.0" stroke="#3434a0" stroke-width="1.25"/><polygon points="0,-8.0 -2.9,-2.5 2.9,-2.5" fill="#24249a"/></g>
<g transform="translate(615.2,546.0) rotate(-48)"><line x1="0" y1="8.0" x2="0" y2="-4.0" stroke="#3434a0" stroke-width="1.25"/><polygon points="0,-8.0 -2.9,-2.5 2.9,-2.5" fill="#24249a"/></g>
<g transform="translate(622.0,546.0) rotate(-48)"><line x1="0" y1="8.0" x2="0" y2="-4.0" stroke="#3434a0" stroke-width="1.25"/><polygon points="0,-8.0 -2.9,-2.5 2.9,-2.5" fill="#24249a"/></g>
<g transform="translate(628.8,546.0) rotate(-48)"><line x1="0" y1="8.0" x2="0" y2="-4.0" stroke="#3434a0" stroke-width="1.25"/><polygon points="0,-8.0 -2.9,-2.5 2.9,-2.5" fill="#24249a"/></g>
<g transform="translate(635.7,546.0) rotate(-48)"><line x1="0" y1="8.0" x2="0" y2="-4.0" stroke="#3434a0" stroke-width="1.25"/><polygon points="0,-8.0 -2.9,-2.5 2.9,-2.5" fill="#24249a"/></g>
<g transform="translate(642.5,546.0) rotate(-48)"><line x1="0" y1="8.0" x2="0" y2="-4.0" stroke="#3434a0" stroke-width="1.25"/><polygon points="0,-8.0 -2.9,-2.5 2.9,-2.5" fill="#24249a"/></g>
<g transform="translate(649.3,546.0) rotate(-48)"><line x1="0" y1="8.0" x2="0" y2="-4.0" stroke="#3434a0" stroke-width="1.25"/><polygon points="0,-8.0 -2.9,-2.5 2.9,-2.5" fill="#24249a"/></g>
<g transform="translate(656.2,546.0) rotate(-48)"><line x1="0" y1="8.0" x2="0" y2="-4.0" stroke="#3434a0" stroke-width="1.25"/><polygon points="0,-8.0 -2.9,-2.5 2.9,-2.5" fill="#24249a"/></g>
<g transform="translate(663.0,546.0) rotate(-50)"><line x1="0" y1="8.0" x2="0" y2="-4.0" stroke="#3434a0" stroke-width="1.25"/><polygon points="0,-8.0 -2.9,-2.5 2.9,-2.5" fill="#24249a"/></g>
<g transform="translate(669.8,546.0) rotate(-52)"><line x1="0" y1="8.0" x2="0" y2="-4.0" stroke="#3434a0" stroke-width="1.25"/><polygon points="0,-8.0 -2.9,-2.5 2.9,-2.5" fill="#24249a"/></g>
<g transform="translate(676.7,546.0) rotate(-52)"><line x1="0" y1="8.0" x2="0" y2="-4.0" stroke="#3434a0" stroke-width="1.25"/><polygon points="0,-8.0 -2.9,-2.5 2.9,-2.5" fill="#24249a"/></g>
<g transform="translate(683.5,546.0) rotate(-50)"><line x1="0" y1="8.0" x2="0" y2="-4.0" stroke="#3434a0" stroke-width="1.25"/><polygon points="0,-8.0 -2.9,-2.5 2.9,-2.5" fill="#24249a"/></g>
<g transform="translate(690.3,546.0) rotate(-42)"><line x1="0" y1="8.0" x2="0" y2="-4.0" stroke="#3434a0" stroke-width="1.25"/><polygon points="0,-8.0 -2.9,-2.5 2.9,-2.5" fill="#24249a"/></g>
<g transform="translate(697.2,546.0) rotate(-35)"><line x1="0" y1="8.0" x2="0" y2="-4.0" stroke="#3434a0" stroke-width="1.25"/><polygon points="0,-8.0 -2.9,-2.5 2.9,-2.5" fill="#24249a"/></g>
<g transform="translate(704.0,546.0) rotate(-22)"><line x1="0" y1="8.0" x2="0" y2="-4.0" stroke="#3434a0" stroke-width="1.25"/><polygon points="0,-8.0 -2.9,-2.5 2.9,-2.5" fill="#24249a"/></g>
<g transform="translate(710.8,546.0) rotate(-12)"><line x1="0" y1="8.0" x2="0" y2="-4.0" stroke="#3434a0" stroke-width="1.25"/><polygon points="0,-8.0 -2.9,-2.5 2.9,-2.5" fill="#24249a"/></g>
<g transform="translate(717.7,546.0) rotate(0)"><line x1="0" y1="8.0" x2="0" y2="-4.0" stroke="#3434a0" stroke-width="1.25"/><polygon points="0,-8.0 -2.9,-2.5 2.9,-2.5" fill="#24249a"/></g>
<g transform="translate(724.5,546.0) rotate(20)"><line x1="0" y1="8.0" x2="0" y2="-4.0" stroke="#3434a0" stroke-width="1.25"/><polygon points="0,-8.0 -2.9,-2.5 2.9,-2.5" fill="#24249a"/></g>
<g transform="translate(731.3,546.0) rotate(40)"><line x1="0" y1="8.0" x2="0" y2="-4.0" stroke="#3434a0" stroke-width="1.25"/><polygon points="0,-8.0 -2.9,-2.5 2.9,-2.5" fill="#24249a"/></g>
<g transform="translate(738.2,546.0) rotate(50)"><line x1="0" y1="8.0" x2="0" y2="-4.0" stroke="#3434a0" stroke-width="1.25"/><polygon points="0,-8.0 -2.9,-2.5 2.9,-2.5" fill="#24249a"/></g>
<g transform="translate(745.0,546.0) rotate(60)"><line x1="0" y1="8.0" x2="0" y2="-4.0" stroke="#3434a0" stroke-width="1.25"/><polygon points="0,-8.0 -2.9,-2.5 2.9,-2.5" fill="#24249a"/></g>
<g transform="translate(751.8,546.0) rotate(80)"><line x1="0" y1="8.0" x2="0" y2="-4.0" stroke="#3434a0" stroke-width="1.25"/><polygon points="0,-8.0 -2.9,-2.5 2.9,-2.5" fill="#24249a"/></g>
<g transform="translate(758.7,546.0) rotate(90)"><line x1="0" y1="8.0" x2="0" y2="-4.0" stroke="#3434a0" stroke-width="1.25"/><polygon points="0,-8.0 -2.9,-2.5 2.9,-2.5" fill="#24249a"/></g>
<g transform="translate(765.5,546.0) rotate(90)"><line x1="0" y1="8.0" x2="0" y2="-4.0" stroke="#3434a0" stroke-width="1.25"/><polygon points="0,-8.0 -2.9,-2.5 2.9,-2.5" fill="#24249a"/></g>
<g transform="translate(772.3,546.0) rotate(90)"><line x1="0" y1="8.0" x2="0" y2="-4.0" stroke="#3434a0" stroke-width="1.25"/><polygon points="0,-8.0 -2.9,-2.5 2.9,-2.5" fill="#24249a"/></g>
<g transform="translate(779.2,546.0) rotate(90)"><line x1="0" y1="8.0" x2="0" y2="-4.0" stroke="#3434a0" stroke-width="1.25"/><polygon points="0,-8.0 -2.9,-2.5 2.9,-2.5" fill="#24249a"/></g>
<g transform="translate(786.0,546.0) rotate(88)"><line x1="0" y1="8.0" x2="0" y2="-4.0" stroke="#3434a0" stroke-width="1.25"/><polygon points="0,-8.0 -2.9,-2.5 2.9,-2.5" fill="#24249a"/></g>
<g transform="translate(792.8,546.0) rotate(75)"><line x1="0" y1="8.0" x2="0" y2="-4.0" stroke="#3434a0" stroke-width="1.25"/><polygon points="0,-8.0 -2.9,-2.5 2.9,-2.5" fill="#24249a"/></g>
<g transform="translate(799.7,546.0) rotate(55)"><line x1="0" y1="8.0" x2="0" y2="-4.0" stroke="#3434a0" stroke-width="1.25"/><polygon points="0,-8.0 -2.9,-2.5 2.9,-2.5" fill="#24249a"/></g>
<g transform="translate(806.5,546.0) rotate(50)"><line x1="0" y1="8.0" x2="0" y2="-4.0" stroke="#3434a0" stroke-width="1.25"/><polygon points="0,-8.0 -2.9,-2.5 2.9,-2.5" fill="#24249a"/></g>
<g transform="translate(813.3,546.0) rotate(75)"><line x1="0" y1="8.0" x2="0" y2="-4.0" stroke="#3434a0" stroke-width="1.25"/><polygon points="0,-8.0 -2.9,-2.5 2.9,-2.5" fill="#24249a"/></g>
<g transform="translate(820.2,546.0) rotate(80)"><line x1="0" y1="8.0" x2="0" y2="-4.0" stroke="#3434a0" stroke-width="1.25"/><polygon points="0,-8.0 -2.9,-2.5 2.9,-2.5" fill="#24249a"/></g>
<g transform="translate(827.0,546.0) rotate(75)"><line x1="0" y1="8.0" x2="0" y2="-4.0" stroke="#3434a0" stroke-width="1.25"/><polygon points="0,-8.0 -2.9,-2.5 2.9,-2.5" fill="#24249a"/></g>
<g transform="translate(833.8,546.0) rotate(55)"><line x1="0" y1="8.0" x2="0" y2="-4.0" stroke="#3434a0" stroke-width="1.25"/><polygon points="0,-8.0 -2.9,-2.5 2.9,-2.5" fill="#24249a"/></g>
<g transform="translate(840.7,546.0) rotate(50)"><line x1="0" y1="8.0" x2="0" y2="-4.0" stroke="#3434a0" stroke-width="1.25"/><polygon points="0,-8.0 -2.9,-2.5 2.9,-2.5" fill="#24249a"/></g>
<g transform="translate(847.5,546.0) rotate(60)"><line x1="0" y1="8.0" x2="0" y2="-4.0" stroke="#3434a0" stroke-width="1.25"/><polygon points="0,-8.0 -2.9,-2.5 2.9,-2.5" fill="#24249a"/></g>
<g transform="translate(854.3,546.0) rotate(85)"><line x1="0" y1="8.0" x2="0" y2="-4.0" stroke="#3434a0" stroke-width="1.25"/><polygon points="0,-8.0 -2.9,-2.5 2.9,-2.5" fill="#24249a"/></g>
<g transform="translate(861.2,546.0) rotate(90)"><line x1="0" y1="8.0" x2="0" y2="-4.0" stroke="#3434a0" stroke-width="1.25"/><polygon points="0,-8.0 -2.9,-2.5 2.9,-2.5" fill="#24249a"/></g>
<g transform="translate(868.0,546.0) rotate(90)"><line x1="0" y1="8.0" x2="0" y2="-4.0" stroke="#3434a0" stroke-width="1.25"/><polygon points="0,-8.0 -2.9,-2.5 2.9,-2.5" fill="#24249a"/></g>
<g transform="translate(874.8,546.0) rotate(90)"><line x1="0" y1="8.0" x2="0" y2="-4.0" stroke="#3434a0" stroke-width="1.25"/><polygon points="0,-8.0 -2.9,-2.5 2.9,-2.5" fill="#24249a"/></g>
<g transform="translate(881.7,546.0) rotate(90)"><line x1="0" y1="8.0" x2="0" y2="-4.0" stroke="#3434a0" stroke-width="1.25"/><polygon points="0,-8.0 -2.9,-2.5 2.9,-2.5" fill="#24249a"/></g>
<g transform="translate(888.5,546.0) rotate(90)"><line x1="0" y1="8.0" x2="0" y2="-4.0" stroke="#3434a0" stroke-width="1.25"/><polygon points="0,-8.0 -2.9,-2.5 2.9,-2.5" fill="#24249a"/></g>
<g transform="translate(895.3,546.0) rotate(90)"><line x1="0" y1="8.0" x2="0" y2="-4.0" stroke="#3434a0" stroke-width="1.25"/><polygon points="0,-8.0 -2.9,-2.5 2.9,-2.5" fill="#24249a"/></g>
<g transform="translate(902.2,546.0) rotate(90)"><line x1="0" y1="8.0" x2="0" y2="-4.0" stroke="#3434a0" stroke-width="1.25"/><polygon points="0,-8.0 -2.9,-2.5 2.9,-2.5" fill="#24249a"/></g>
<g transform="translate(909.0,546.0) rotate(90)"><line x1="0" y1="8.0" x2="0" y2="-4.0" stroke="#3434a0" stroke-width="1.25"/><polygon points="0,-8.0 -2.9,-2.5 2.9,-2.5" fill="#24249a"/></g>
<g transform="translate(915.8,546.0) rotate(90)"><line x1="0" y1="8.0" x2="0" y2="-4.0" stroke="#3434a0" stroke-width="1.25"/><polygon points="0,-8.0 -2.9,-2.5 2.9,-2.5" fill="#24249a"/></g>
<g transform="translate(922.7,546.0) rotate(90)"><line x1="0" y1="8.0" x2="0" y2="-4.0" stroke="#3434a0" stroke-width="1.25"/><polygon points="0,-8.0 -2.9,-2.5 2.9,-2.5" fill="#24249a"/></g>
<g transform="translate(929.5,546.0) rotate(90)"><line x1="0" y1="8.0" x2="0" y2="-4.0" stroke="#3434a0" stroke-width="1.25"/><polygon points="0,-8.0 -2.9,-2.5 2.9,-2.5" fill="#24249a"/></g>
<g transform="translate(936.3,546.0) rotate(90)"><line x1="0" y1="8.0" x2="0" y2="-4.0" stroke="#3434a0" stroke-width="1.25"/><polygon points="0,-8.0 -2.9,-2.5 2.9,-2.5" fill="#24249a"/></g>
<g transform="translate(943.2,546.0) rotate(90)"><line x1="0" y1="8.0" x2="0" y2="-4.0" stroke="#3434a0" stroke-width="1.25"/><polygon points="0,-8.0 -2.9,-2.5 2.9,-2.5" fill="#24249a"/></g>
<g transform="translate(950.0,546.0) rotate(90)"><line x1="0" y1="8.0" x2="0" y2="-4.0" stroke="#3434a0" stroke-width="1.25"/><polygon points="0,-8.0 -2.9,-2.5 2.9,-2.5" fill="#24249a"/></g>
<rect x="376.50" y="530.50" width="574.00" height="33.00" fill="none" stroke="#2a2a2a" stroke-width="1.5"/>
<rect x="376.00" y="569.00" width="574.00" height="83.50" fill="#4aa8f0" fill-opacity="0.62"/>
<clipPath id="cC"><rect x="376.0" y="569" width="574.0" height="83.5"/></clipPath>
<g clip-path="url(#cC)">
<circle cx="376.0" cy="586.8" r="2.9" fill="#a23838"/>
<circle cx="382.8" cy="586.8" r="2.9" fill="#a23838"/>
<circle cx="389.7" cy="586.8" r="2.9" fill="#a23838"/>
<circle cx="396.5" cy="586.8" r="2.9" fill="#a23838"/>
<circle cx="403.3" cy="585.0" r="2.9" fill="#a23838"/>
<circle cx="410.2" cy="585.0" r="2.9" fill="#a23838"/>
<circle cx="417.0" cy="585.0" r="2.9" fill="#a23838"/>
<circle cx="423.8" cy="586.8" r="2.9" fill="#a23838"/>
<circle cx="430.7" cy="638.8" r="2.9" fill="#a23838"/>
<circle cx="437.5" cy="637.4" r="2.9" fill="#a23838"/>
<circle cx="444.3" cy="630.4" r="2.9" fill="#a23838"/>
<circle cx="505.8" cy="585.0" r="2.9" fill="#a23838"/>
<circle cx="512.7" cy="583.0" r="2.9" fill="#a23838"/>
<circle cx="519.5" cy="583.0" r="2.9" fill="#a23838"/>
<circle cx="526.3" cy="585.4" r="2.9" fill="#a23838"/>
<circle cx="533.2" cy="583.0" r="2.9" fill="#a23838"/>
<circle cx="540.0" cy="583.0" r="2.9" fill="#a23838"/>
<circle cx="546.8" cy="583.0" r="2.9" fill="#a23838"/>
<circle cx="553.7" cy="583.0" r="2.9" fill="#a23838"/>
<circle cx="560.5" cy="581.2" r="2.9" fill="#a23838"/>
<circle cx="567.3" cy="581.2" r="2.9" fill="#a23838"/>
<circle cx="574.2" cy="581.2" r="2.9" fill="#a23838"/>
<circle cx="581.0" cy="579.0" r="2.9" fill="#a23838"/>
<circle cx="587.8" cy="579.0" r="2.9" fill="#a23838"/>
<circle cx="594.7" cy="579.0" r="2.9" fill="#a23838"/>
<circle cx="601.5" cy="579.0" r="2.9" fill="#a23838"/>
<circle cx="608.3" cy="579.0" r="2.9" fill="#a23838"/>
<circle cx="615.2" cy="579.0" r="2.9" fill="#a23838"/>
<circle cx="622.0" cy="579.0" r="2.9" fill="#a23838"/>
<circle cx="628.8" cy="579.0" r="2.9" fill="#a23838"/>
<circle cx="635.7" cy="579.0" r="2.9" fill="#a23838"/>
<circle cx="642.5" cy="579.0" r="2.9" fill="#a23838"/>
<circle cx="649.3" cy="579.0" r="2.9" fill="#a23838"/>
<circle cx="656.2" cy="579.0" r="2.9" fill="#a23838"/>
<circle cx="663.0" cy="579.0" r="2.9" fill="#a23838"/>
<circle cx="669.8" cy="579.0" r="2.9" fill="#a23838"/>
<circle cx="676.7" cy="579.0" r="2.9" fill="#a23838"/>
<circle cx="683.5" cy="580.2" r="2.9" fill="#a23838"/>
<circle cx="690.3" cy="581.2" r="2.9" fill="#a23838"/>
<circle cx="697.2" cy="581.2" r="2.9" fill="#a23838"/>
<circle cx="704.0" cy="581.2" r="2.9" fill="#a23838"/>
<circle cx="710.8" cy="581.2" r="2.9" fill="#a23838"/>
<circle cx="717.7" cy="581.2" r="2.9" fill="#a23838"/>
<circle cx="724.5" cy="581.2" r="2.9" fill="#a23838"/>
<circle cx="731.3" cy="581.2" r="2.9" fill="#a23838"/>
<circle cx="738.2" cy="581.2" r="2.9" fill="#a23838"/>
<circle cx="745.0" cy="581.2" r="2.9" fill="#a23838"/>
<circle cx="751.8" cy="582.6" r="2.9" fill="#a23838"/>
<circle cx="758.7" cy="583.0" r="2.9" fill="#a23838"/>
<circle cx="765.5" cy="583.6" r="2.9" fill="#a23838"/>
<circle cx="772.3" cy="583.0" r="2.9" fill="#a23838"/>
<circle cx="779.2" cy="583.0" r="2.9" fill="#a23838"/>
<circle cx="786.0" cy="583.0" r="2.9" fill="#a23838"/>
<circle cx="792.8" cy="585.4" r="2.9" fill="#a23838"/>
<circle cx="799.7" cy="585.4" r="2.9" fill="#a23838"/>
<circle cx="806.5" cy="585.4" r="2.9" fill="#a23838"/>
<circle cx="813.3" cy="585.4" r="2.9" fill="#a23838"/>
<circle cx="820.2" cy="585.4" r="2.9" fill="#a23838"/>
<circle cx="827.0" cy="585.4" r="2.9" fill="#a23838"/>
<circle cx="833.8" cy="583.3" r="2.9" fill="#a23838"/>
<circle cx="840.7" cy="583.3" r="2.9" fill="#a23838"/>
<circle cx="847.5" cy="583.3" r="2.9" fill="#a23838"/>
<circle cx="854.3" cy="583.3" r="2.9" fill="#a23838"/>
<circle cx="861.2" cy="583.3" r="2.9" fill="#a23838"/>
<circle cx="868.0" cy="583.3" r="2.9" fill="#a23838"/>
<circle cx="874.8" cy="581.2" r="2.9" fill="#a23838"/>
<circle cx="881.7" cy="581.2" r="2.9" fill="#a23838"/>
<circle cx="888.5" cy="581.2" r="2.9" fill="#a23838"/>
<circle cx="895.3" cy="581.2" r="2.9" fill="#a23838"/>
<circle cx="902.2" cy="581.2" r="2.9" fill="#a23838"/>
<circle cx="909.0" cy="581.2" r="2.9" fill="#a23838"/>
<circle cx="915.8" cy="581.2" r="2.9" fill="#a23838"/>
<circle cx="922.7" cy="581.2" r="2.9" fill="#a23838"/>
<circle cx="929.5" cy="581.2" r="2.9" fill="#a23838"/>
<circle cx="936.3" cy="581.2" r="2.9" fill="#a23838"/>
<circle cx="943.2" cy="583.3" r="2.9" fill="#a23838"/>
<circle cx="950.0" cy="583.3" r="2.9" fill="#a23838"/>
<circle cx="376.0" cy="589.6" r="2.9" fill="#ffffff"/>
<circle cx="382.8" cy="613.5" r="2.9" fill="#ffffff"/>
<circle cx="389.7" cy="613.5" r="2.9" fill="#ffffff"/>
<circle cx="396.5" cy="590.3" r="2.9" fill="#ffffff"/>
<circle cx="403.3" cy="598.0" r="2.9" fill="#ffffff"/>
<circle cx="410.2" cy="602.3" r="2.9" fill="#ffffff"/>
<circle cx="417.0" cy="643.8" r="2.9" fill="#ffffff"/>
<circle cx="423.8" cy="644.5" r="2.9" fill="#ffffff"/>
<circle cx="430.7" cy="644.5" r="2.9" fill="#ffffff"/>
<circle cx="437.5" cy="643.8" r="2.9" fill="#ffffff"/>
<circle cx="444.3" cy="634.6" r="2.9" fill="#ffffff"/>
<circle cx="505.8" cy="601.8" r="2.9" fill="#ffffff"/>
<circle cx="512.7" cy="601.8" r="2.9" fill="#ffffff"/>
<circle cx="519.5" cy="613.5" r="2.9" fill="#ffffff"/>
<circle cx="526.3" cy="613.5" r="2.9" fill="#ffffff"/>
<circle cx="533.2" cy="613.5" r="2.9" fill="#ffffff"/>
<circle cx="540.0" cy="643.0" r="2.9" fill="#ffffff"/>
<circle cx="546.8" cy="643.8" r="2.9" fill="#ffffff"/>
<circle cx="553.7" cy="643.8" r="2.9" fill="#ffffff"/>
<circle cx="560.5" cy="644.5" r="2.9" fill="#ffffff"/>
<circle cx="567.3" cy="644.5" r="2.9" fill="#ffffff"/>
<circle cx="574.2" cy="644.5" r="2.9" fill="#ffffff"/>
<circle cx="581.0" cy="643.8" r="2.9" fill="#ffffff"/>
<circle cx="587.8" cy="641.0" r="2.9" fill="#ffffff"/>
<circle cx="594.7" cy="619.9" r="2.9" fill="#ffffff"/>
<circle cx="601.5" cy="613.5" r="2.9" fill="#ffffff"/>
<circle cx="608.3" cy="613.5" r="2.9" fill="#ffffff"/>
<circle cx="615.2" cy="613.5" r="2.9" fill="#ffffff"/>
<circle cx="622.0" cy="613.5" r="2.9" fill="#ffffff"/>
<circle cx="628.8" cy="613.5" r="2.9" fill="#ffffff"/>
<circle cx="635.7" cy="598.0" r="2.9" fill="#ffffff"/>
<circle cx="642.5" cy="598.0" r="2.9" fill="#ffffff"/>
<circle cx="649.3" cy="607.9" r="2.9" fill="#ffffff"/>
<circle cx="656.2" cy="607.9" r="2.9" fill="#ffffff"/>
<circle cx="663.0" cy="625.5" r="2.9" fill="#ffffff"/>
<circle cx="669.8" cy="625.8" r="2.9" fill="#ffffff"/>
<circle cx="676.7" cy="605.5" r="2.9" fill="#ffffff"/>
<circle cx="683.5" cy="598.5" r="2.9" fill="#ffffff"/>
<circle cx="690.3" cy="598.5" r="2.9" fill="#ffffff"/>
<circle cx="697.2" cy="641.7" r="2.9" fill="#ffffff"/>
<circle cx="704.0" cy="598.5" r="2.9" fill="#ffffff"/>
<circle cx="710.8" cy="620.6" r="2.9" fill="#ffffff"/>
<circle cx="717.7" cy="598.5" r="2.9" fill="#ffffff"/>
<circle cx="724.5" cy="598.5" r="2.9" fill="#ffffff"/>
<circle cx="731.3" cy="598.5" r="2.9" fill="#ffffff"/>
<circle cx="738.2" cy="590.0" r="2.9" fill="#ffffff"/>
<circle cx="745.0" cy="629.0" r="2.9" fill="#ffffff"/>
<circle cx="751.8" cy="628.6" r="2.9" fill="#ffffff"/>
<circle cx="758.7" cy="625.2" r="2.9" fill="#ffffff"/>
<circle cx="765.5" cy="620.6" r="2.9" fill="#ffffff"/>
<circle cx="772.3" cy="620.6" r="2.9" fill="#ffffff"/>
<circle cx="779.2" cy="620.6" r="2.9" fill="#ffffff"/>
<circle cx="786.0" cy="613.5" r="2.9" fill="#ffffff"/>
<circle cx="792.8" cy="625.5" r="2.9" fill="#ffffff"/>
<circle cx="799.7" cy="621.0" r="2.9" fill="#ffffff"/>
<circle cx="806.5" cy="621.0" r="2.9" fill="#ffffff"/>
<circle cx="813.3" cy="621.0" r="2.9" fill="#ffffff"/>
<circle cx="820.2" cy="621.0" r="2.9" fill="#ffffff"/>
<circle cx="827.0" cy="628.3" r="2.9" fill="#ffffff"/>
<circle cx="833.8" cy="631.1" r="2.9" fill="#ffffff"/>
<circle cx="840.7" cy="631.1" r="2.9" fill="#ffffff"/>
<circle cx="847.5" cy="631.1" r="2.9" fill="#ffffff"/>
<circle cx="854.3" cy="631.1" r="2.9" fill="#ffffff"/>
<circle cx="861.2" cy="631.1" r="2.9" fill="#ffffff"/>
<circle cx="868.0" cy="628.0" r="2.9" fill="#ffffff"/>
<circle cx="874.8" cy="628.0" r="2.9" fill="#ffffff"/>
<circle cx="881.7" cy="624.8" r="2.9" fill="#ffffff"/>
<circle cx="888.5" cy="628.0" r="2.9" fill="#ffffff"/>
<circle cx="895.3" cy="628.0" r="2.9" fill="#ffffff"/>
<circle cx="902.2" cy="598.5" r="2.9" fill="#ffffff"/>
<circle cx="909.0" cy="598.5" r="2.9" fill="#ffffff"/>
<circle cx="915.8" cy="598.5" r="2.9" fill="#ffffff"/>
<circle cx="922.7" cy="624.8" r="2.9" fill="#ffffff"/>
<circle cx="929.5" cy="624.8" r="2.9" fill="#ffffff"/>
<circle cx="936.3" cy="624.8" r="2.9" fill="#ffffff"/>
<circle cx="943.2" cy="624.8" r="2.9" fill="#ffffff"/>
<circle cx="950.0" cy="624.8" r="2.9" fill="#ffffff"/>
<polyline points="376.0,571.3 409.8,571.3 411.9,576.3 417.5,649.4 436.5,650.1 440.0,632.5 444.9,572.7 446.3,571.3 532.7,570.9 535.5,580.5 546.7,650.1 580.5,650.1 584.7,614.2 587.5,574.8 593.1,577.7 601.6,600.2 607.2,606.5 614.2,603.0 621.3,606.5 632.5,597.3 642.4,589.6 655.0,585.4 660.6,572.7 664.0,571.3 676.7,573.4 683.7,578.4 690.7,594.5 697.0,596.6 703.4,571.3 744.2,571.3 751.2,587.5 758.2,579.1 765.3,583.3 770.9,571.3 799.0,571.3 804.6,584.0 808.0,586.1 812.9,586.8 819.3,571.3 826.3,586.1 833.3,606.5 840.3,605.8 854.4,611.4 860.7,626.9 867.1,629.0 881.1,629.0 895.2,624.8 909.3,626.2 914.9,623.8 927.5,626.9 936.0,621.3 943.0,604.4 948.6,590.3 950.0,588.0" fill="none" stroke="#d8a44c" stroke-width="3" stroke-linejoin="round" stroke-opacity="0.92"/>
</g>
<line x1="396.50" y1="569" x2="396.50" y2="652.5" stroke="#000" stroke-width="1.25" stroke-dasharray="2,2.3"/>
<line x1="417.00" y1="569" x2="417.00" y2="652.5" stroke="#000" stroke-width="1.25" stroke-dasharray="2,2.3"/>
<line x1="437.50" y1="569" x2="437.50" y2="652.5" stroke="#000" stroke-width="1.25" stroke-dasharray="2,2.3"/>
<line x1="458.00" y1="569" x2="458.00" y2="652.5" stroke="#000" stroke-width="1.25" stroke-dasharray="2,2.3"/>
<line x1="478.50" y1="569" x2="478.50" y2="652.5" stroke="#000" stroke-width="1.25" stroke-dasharray="2,2.3"/>
<line x1="499.00" y1="569" x2="499.00" y2="652.5" stroke="#000" stroke-width="1.25" stroke-dasharray="2,2.3"/>
<line x1="519.50" y1="569" x2="519.50" y2="652.5" stroke="#000" stroke-width="1.25" stroke-dasharray="2,2.3"/>
<line x1="540.00" y1="569" x2="540.00" y2="652.5" stroke="#000" stroke-width="1.25" stroke-dasharray="2,2.3"/>
<line x1="560.50" y1="569" x2="560.50" y2="652.5" stroke="#000" stroke-width="1.25" stroke-dasharray="2,2.3"/>
<line x1="581.00" y1="569" x2="581.00" y2="652.5" stroke="#000" stroke-width="1.25" stroke-dasharray="2,2.3"/>
<line x1="601.50" y1="569" x2="601.50" y2="652.5" stroke="#000" stroke-width="1.25" stroke-dasharray="2,2.3"/>
<line x1="622.00" y1="569" x2="622.00" y2="652.5" stroke="#000" stroke-width="1.25" stroke-dasharray="2,2.3"/>
<line x1="642.50" y1="569" x2="642.50" y2="652.5" stroke="#000" stroke-width="1.25" stroke-dasharray="2,2.3"/>
<line x1="663.00" y1="569" x2="663.00" y2="652.5" stroke="#000" stroke-width="1.25" stroke-dasharray="2,2.3"/>
<line x1="683.50" y1="569" x2="683.50" y2="652.5" stroke="#000" stroke-width="1.25" stroke-dasharray="2,2.3"/>
<line x1="704.00" y1="569" x2="704.00" y2="652.5" stroke="#000" stroke-width="1.25" stroke-dasharray="2,2.3"/>
<line x1="724.50" y1="569" x2="724.50" y2="652.5" stroke="#000" stroke-width="1.25" stroke-dasharray="2,2.3"/>
<line x1="745.00" y1="569" x2="745.00" y2="652.5" stroke="#000" stroke-width="1.25" stroke-dasharray="2,2.3"/>
<line x1="765.50" y1="569" x2="765.50" y2="652.5" stroke="#000" stroke-width="1.25" stroke-dasharray="2,2.3"/>
<line x1="786.00" y1="569" x2="786.00" y2="652.5" stroke="#000" stroke-width="1.25" stroke-dasharray="2,2.3"/>
<line x1="806.50" y1="569" x2="806.50" y2="652.5" stroke="#000" stroke-width="1.25" stroke-dasharray="2,2.3"/>
<line x1="827.00" y1="569" x2="827.00" y2="652.5" stroke="#000" stroke-width="1.25" stroke-dasharray="2,2.3"/>
<line x1="847.50" y1="569" x2="847.50" y2="652.5" stroke="#000" stroke-width="1.25" stroke-dasharray="2,2.3"/>
<line x1="868.00" y1="569" x2="868.00" y2="652.5" stroke="#000" stroke-width="1.25" stroke-dasharray="2,2.3"/>
<line x1="888.50" y1="569" x2="888.50" y2="652.5" stroke="#000" stroke-width="1.25" stroke-dasharray="2,2.3"/>
<line x1="909.00" y1="569" x2="909.00" y2="652.5" stroke="#000" stroke-width="1.25" stroke-dasharray="2,2.3"/>
<line x1="929.50" y1="569" x2="929.50" y2="652.5" stroke="#000" stroke-width="1.25" stroke-dasharray="2,2.3"/>
<line x1="376.0" y1="590.00" x2="950.0" y2="590.00" stroke="#000" stroke-width="1.25" stroke-dasharray="2,2.3"/>
<line x1="376.0" y1="611.00" x2="950.0" y2="611.00" stroke="#000" stroke-width="1.25" stroke-dasharray="2,2.3"/>
<line x1="376.0" y1="632.00" x2="950.0" y2="632.00" stroke="#000" stroke-width="1.25" stroke-dasharray="2,2.3"/>
<rect x="376.50" y="569.50" width="574.00" height="83.50" fill="none" stroke="#2a2a2a" stroke-width="1.5"/>
<text x="371.0" y="177.3" font-size="11.5" fill="#333333" stroke="#333333" stroke-width="0.22" text-anchor="end" style="font-family:'Liberation Sans',sans-serif" >10</text>
<text x="956.0" y="177.3" font-size="11.5" fill="#333333" stroke="#333333" stroke-width="0.22" text-anchor="start" style="font-family:'Liberation Sans',sans-serif" >10</text>
<text x="371.0" y="195.1" font-size="11.5" fill="#333333" stroke="#333333" stroke-width="0.22" text-anchor="end" style="font-family:'Liberation Sans',sans-serif" >5</text>
<text x="956.0" y="195.1" font-size="11.5" fill="#333333" stroke="#333333" stroke-width="0.22" text-anchor="start" style="font-family:'Liberation Sans',sans-serif" >5</text>
<text x="371.0" y="212.8" font-size="11.5" fill="#333333" stroke="#333333" stroke-width="0.22" text-anchor="end" style="font-family:'Liberation Sans',sans-serif" >0</text>
<text x="956.0" y="212.8" font-size="11.5" fill="#333333" stroke="#333333" stroke-width="0.22" text-anchor="start" style="font-family:'Liberation Sans',sans-serif" >0</text>
<text x="371.0" y="230.6" font-size="11.5" fill="#333333" stroke="#333333" stroke-width="0.22" text-anchor="end" style="font-family:'Liberation Sans',sans-serif" >-5</text>
<text x="956.0" y="230.6" font-size="11.5" fill="#333333" stroke="#333333" stroke-width="0.22" text-anchor="start" style="font-family:'Liberation Sans',sans-serif" >-5</text>
<text x="371.0" y="248.3" font-size="11.5" fill="#333333" stroke="#333333" stroke-width="0.22" text-anchor="end" style="font-family:'Liberation Sans',sans-serif" >-10</text>
<text x="956.0" y="248.3" font-size="11.5" fill="#333333" stroke="#333333" stroke-width="0.22" text-anchor="start" style="font-family:'Liberation Sans',sans-serif" >-10</text>
<text x="371.0" y="263.0" font-size="11.5" fill="#333333" stroke="#333333" stroke-width="0.22" text-anchor="end" style="font-family:'Liberation Sans',sans-serif" >5</text>
<text x="956.0" y="263.0" font-size="11.5" fill="#d06030" stroke="#d06030" stroke-width="0.22" text-anchor="start" style="font-family:'Liberation Sans',sans-serif" >100</text>
<text x="371.0" y="278.7" font-size="11.5" fill="#333333" stroke="#333333" stroke-width="0.22" text-anchor="end" style="font-family:'Liberation Sans',sans-serif" >4</text>
<text x="956.0" y="278.7" font-size="11.5" fill="#d06030" stroke="#d06030" stroke-width="0.22" text-anchor="start" style="font-family:'Liberation Sans',sans-serif" >90</text>
<text x="371.0" y="294.4" font-size="11.5" fill="#333333" stroke="#333333" stroke-width="0.22" text-anchor="end" style="font-family:'Liberation Sans',sans-serif" >3</text>
<text x="956.0" y="294.4" font-size="11.5" fill="#d06030" stroke="#d06030" stroke-width="0.22" text-anchor="start" style="font-family:'Liberation Sans',sans-serif" >80</text>
<text x="371.0" y="310.1" font-size="11.5" fill="#333333" stroke="#333333" stroke-width="0.22" text-anchor="end" style="font-family:'Liberation Sans',sans-serif" >2</text>
<text x="956.0" y="310.1" font-size="11.5" fill="#d06030" stroke="#d06030" stroke-width="0.22" text-anchor="start" style="font-family:'Liberation Sans',sans-serif" >70</text>
<text x="371.0" y="325.8" font-size="11.5" fill="#333333" stroke="#333333" stroke-width="0.22" text-anchor="end" style="font-family:'Liberation Sans',sans-serif" >1</text>
<text x="956.0" y="325.8" font-size="11.5" fill="#d06030" stroke="#d06030" stroke-width="0.22" text-anchor="start" style="font-family:'Liberation Sans',sans-serif" >60</text>
<text x="371.0" y="341.5" font-size="11.5" fill="#333333" stroke="#333333" stroke-width="0.22" text-anchor="end" style="font-family:'Liberation Sans',sans-serif" >0</text>
<text x="956.0" y="341.5" font-size="11.5" fill="#d06030" stroke="#d06030" stroke-width="0.22" text-anchor="start" style="font-family:'Liberation Sans',sans-serif" >50</text>
<text x="371.0" y="361.0" font-size="11.5" fill="#333333" stroke="#333333" stroke-width="0.22" text-anchor="end" style="font-family:'Liberation Sans',sans-serif" >1010</text>
<text x="956.0" y="361.0" font-size="11.5" fill="#333333" stroke="#333333" stroke-width="0.22" text-anchor="start" style="font-family:'Liberation Sans',sans-serif" >758</text>
<text x="371.0" y="387.0" font-size="11.5" fill="#333333" stroke="#333333" stroke-width="0.22" text-anchor="end" style="font-family:'Liberation Sans',sans-serif" >1000</text>
<text x="956.0" y="387.0" font-size="11.5" fill="#333333" stroke="#333333" stroke-width="0.22" text-anchor="start" style="font-family:'Liberation Sans',sans-serif" >750</text>
<text x="371.0" y="412.5" font-size="11.5" fill="#333333" stroke="#333333" stroke-width="0.22" text-anchor="end" style="font-family:'Liberation Sans',sans-serif" >990</text>
<text x="956.0" y="412.5" font-size="11.5" fill="#333333" stroke="#333333" stroke-width="0.22" text-anchor="start" style="font-family:'Liberation Sans',sans-serif" >742</text>
<text x="371.0" y="444.0" font-size="11.5" fill="#333333" stroke="#333333" stroke-width="0.22" text-anchor="end" style="font-family:'Liberation Sans',sans-serif" >10</text>
<text x="956.0" y="444.0" font-size="11.5" fill="#333333" stroke="#333333" stroke-width="0.22" text-anchor="start" style="font-family:'Liberation Sans',sans-serif" >36</text>
<text x="371.0" y="460.6" font-size="11.5" fill="#333333" stroke="#333333" stroke-width="0.22" text-anchor="end" style="font-family:'Liberation Sans',sans-serif" >8</text>
<text x="956.0" y="460.6" font-size="11.5" fill="#333333" stroke="#333333" stroke-width="0.22" text-anchor="start" style="font-family:'Liberation Sans',sans-serif" >29</text>
<text x="371.0" y="477.2" font-size="11.5" fill="#333333" stroke="#333333" stroke-width="0.22" text-anchor="end" style="font-family:'Liberation Sans',sans-serif" >6</text>
<text x="956.0" y="477.2" font-size="11.5" fill="#333333" stroke="#333333" stroke-width="0.22" text-anchor="start" style="font-family:'Liberation Sans',sans-serif" >22</text>
<text x="371.0" y="493.8" font-size="11.5" fill="#333333" stroke="#333333" stroke-width="0.22" text-anchor="end" style="font-family:'Liberation Sans',sans-serif" >4</text>
<text x="956.0" y="493.8" font-size="11.5" fill="#333333" stroke="#333333" stroke-width="0.22" text-anchor="start" style="font-family:'Liberation Sans',sans-serif" >14</text>
<text x="371.0" y="510.4" font-size="11.5" fill="#333333" stroke="#333333" stroke-width="0.22" text-anchor="end" style="font-family:'Liberation Sans',sans-serif" >2</text>
<text x="956.0" y="510.4" font-size="11.5" fill="#333333" stroke="#333333" stroke-width="0.22" text-anchor="start" style="font-family:'Liberation Sans',sans-serif" >7</text>
<text x="371.0" y="527.0" font-size="11.5" fill="#333333" stroke="#333333" stroke-width="0.22" text-anchor="end" style="font-family:'Liberation Sans',sans-serif" >0</text>
<text x="956.0" y="527.0" font-size="11.5" fill="#333333" stroke="#333333" stroke-width="0.22" text-anchor="start" style="font-family:'Liberation Sans',sans-serif" >0</text>
<text x="371.0" y="573.0" font-size="11.5" fill="#333333" stroke="#333333" stroke-width="0.22" text-anchor="end" style="font-family:'Liberation Sans',sans-serif" >15.0</text>
<text x="956.0" y="573.0" font-size="11.5" fill="#e09030" stroke="#e09030" stroke-width="0.22" text-anchor="start" style="font-family:'Liberation Sans',sans-serif" >100</text>
<text x="371.0" y="594.0" font-size="11.5" fill="#333333" stroke="#333333" stroke-width="0.22" text-anchor="end" style="font-family:'Liberation Sans',sans-serif" >7.0</text>
<text x="956.0" y="594.0" font-size="11.5" fill="#e09030" stroke="#e09030" stroke-width="0.22" text-anchor="start" style="font-family:'Liberation Sans',sans-serif" >20</text>
<text x="371.0" y="615.0" font-size="11.5" fill="#333333" stroke="#333333" stroke-width="0.22" text-anchor="end" style="font-family:'Liberation Sans',sans-serif" >2.0</text>
<text x="956.0" y="615.0" font-size="11.5" fill="#e09030" stroke="#e09030" stroke-width="0.22" text-anchor="start" style="font-family:'Liberation Sans',sans-serif" >5</text>
<text x="371.0" y="636.0" font-size="11.5" fill="#333333" stroke="#333333" stroke-width="0.22" text-anchor="end" style="font-family:'Liberation Sans',sans-serif" >0.5</text>
<text x="956.0" y="636.0" font-size="11.5" fill="#e09030" stroke="#e09030" stroke-width="0.22" text-anchor="start" style="font-family:'Liberation Sans',sans-serif" >1</text>
<text x="371.0" y="656.5" font-size="11.5" fill="#333333" stroke="#333333" stroke-width="0.22" text-anchor="end" style="font-family:'Liberation Sans',sans-serif" >0.0</text>
<text x="956.0" y="656.5" font-size="11.5" fill="#e09030" stroke="#e09030" stroke-width="0.22" text-anchor="start" style="font-family:'Liberation Sans',sans-serif" >0</text>
<text x="376.0" y="158.5" font-size="14" fill="#333333" stroke="#333333" stroke-width="0.22" text-anchor="middle" style="font-family:'Liberation Sans',sans-serif" >02</text>
<text x="417.0" y="158.5" font-size="14" fill="#333333" stroke="#333333" stroke-width="0.22" text-anchor="middle" style="font-family:'Liberation Sans',sans-serif" >08</text>
<text x="458.0" y="158.5" font-size="14" fill="#333333" stroke="#333333" stroke-width="0.22" text-anchor="middle" style="font-family:'Liberation Sans',sans-serif" >14</text>
<text x="499.0" y="158.5" font-size="14" fill="#333333" stroke="#333333" stroke-width="0.22" text-anchor="middle" style="font-family:'Liberation Sans',sans-serif" >20</text>
<text x="540.0" y="158.5" font-size="14" fill="#333333" stroke="#333333" stroke-width="0.22" text-anchor="middle" style="font-family:'Liberation Sans',sans-serif" >02</text>
<text x="581.0" y="158.5" font-size="14" fill="#333333" stroke="#333333" stroke-width="0.22" text-anchor="middle" style="font-family:'Liberation Sans',sans-serif" >08</text>
<text x="622.0" y="158.5" font-size="14" fill="#333333" stroke="#333333" stroke-width="0.22" text-anchor="middle" style="font-family:'Liberation Sans',sans-serif" >14</text>
<text x="663.0" y="158.5" font-size="14" fill="#333333" stroke="#333333" stroke-width="0.22" text-anchor="middle" style="font-family:'Liberation Sans',sans-serif" >20</text>
<text x="704.0" y="158.5" font-size="14" fill="#333333" stroke="#333333" stroke-width="0.22" text-anchor="middle" style="font-family:'Liberation Sans',sans-serif" >02</text>
<text x="745.0" y="158.5" font-size="14" fill="#333333" stroke="#333333" stroke-width="0.22" text-anchor="middle" style="font-family:'Liberation Sans',sans-serif" >08</text>
<text x="786.0" y="158.5" font-size="14" fill="#333333" stroke="#333333" stroke-width="0.22" text-anchor="middle" style="font-family:'Liberation Sans',sans-serif" >14</text>
<text x="827.0" y="158.5" font-size="14" fill="#333333" stroke="#333333" stroke-width="0.22" text-anchor="middle" style="font-family:'Liberation Sans',sans-serif" >20</text>
<text x="868.0" y="158.5" font-size="14" fill="#333333" stroke="#333333" stroke-width="0.22" text-anchor="middle" style="font-family:'Liberation Sans',sans-serif" >02</text>
<text x="909.0" y="158.5" font-size="14" fill="#333333" stroke="#333333" stroke-width="0.22" text-anchor="middle" style="font-family:'Liberation Sans',sans-serif" >08</text>
<text x="950.0" y="158.5" font-size="14" fill="#333333" stroke="#333333" stroke-width="0.22" text-anchor="middle" style="font-family:'Liberation Sans',sans-serif" >14</text>
<text x="364.5" y="158.5" font-size="14" fill="#333333" stroke="#333333" stroke-width="0.22" text-anchor="end" style="font-family:'Liberation Sans',sans-serif" >CEST</text>
<text x="963.0" y="158.5" font-size="14" fill="#333333" stroke="#333333" stroke-width="0.22" text-anchor="start" style="font-family:'Liberation Sans',sans-serif" >CEST</text>
<text x="458.0" y="144.0" font-size="14" fill="#333333" stroke="#333333" stroke-width="0.22" text-anchor="middle" style="font-family:'Liberation Sans',sans-serif" >pią, 30.03</text>
<text x="622.0" y="144.0" font-size="14" fill="#333333" stroke="#333333" stroke-width="0.22" text-anchor="middle" style="font-family:'Liberation Sans',sans-serif" >sob, 31.03</text>
<text x="786.0" y="144.0" font-size="14" fill="#333333" stroke="#333333" stroke-width="0.22" text-anchor="middle" style="font-family:'Liberation Sans',sans-serif" >nie, 01.04</text>
<text x="950.0" y="144.0" font-size="14" fill="#333333" stroke="#333333" stroke-width="0.22" text-anchor="middle" style="font-family:'Liberation Sans',sans-serif" >pon, 02.04</text>
<text x="376.0" y="668.6" font-size="14" fill="#333333" stroke="#333333" stroke-width="0.22" text-anchor="middle" style="font-family:'Liberation Sans',sans-serif" >00</text>
<text x="417.0" y="668.6" font-size="14" fill="#333333" stroke="#333333" stroke-width="0.22" text-anchor="middle" style="font-family:'Liberation Sans',sans-serif" >06</text>
<text x="458.0" y="668.6" font-size="14" fill="#333333" stroke="#333333" stroke-width="0.22" text-anchor="middle" style="font-family:'Liberation Sans',sans-serif" >12</text>
<text x="499.0" y="668.6" font-size="14" fill="#333333" stroke="#333333" stroke-width="0.22" text-anchor="middle" style="font-family:'Liberation Sans',sans-serif" >18</text>
<text x="540.0" y="668.6" font-size="14" fill="#333333" stroke="#333333" stroke-width="0.22" text-anchor="middle" style="font-family:'Liberation Sans',sans-serif" >00</text>
<text x="581.0" y="668.6" font-size="14" fill="#333333" stroke="#333333" stroke-width="0.22" text-anchor="middle" style="font-family:'Liberation Sans',sans-serif" >06</text>
<text x="622.0" y="668.6" font-size="14" fill="#333333" stroke="#333333" stroke-width="0.22" text-anchor="middle" style="font-family:'Liberation Sans',sans-serif" >12</text>
<text x="663.0" y="668.6" font-size="14" fill="#333333" stroke="#333333" stroke-width="0.22" text-anchor="middle" style="font-family:'Liberation Sans',sans-serif" >18</text>
<text x="704.0" y="668.6" font-size="14" fill="#333333" stroke="#333333" stroke-width="0.22" text-anchor="middle" style="font-family:'Liberation Sans',sans-serif" >00</text>
<text x="745.0" y="668.6" font-size="14" fill="#333333" stroke="#333333" stroke-width="0.22" text-anchor="middle" style="font-family:'Liberation Sans',sans-serif" >06</text>
<text x="786.0" y="668.6" font-size="14" fill="#333333" stroke="#333333" stroke-width="0.22" text-anchor="middle" style="font-family:'Liberation Sans',sans-serif" >12</text>
<text x="827.0" y="668.6" font-size="14" fill="#333333" stroke="#333333" stroke-width="0.22" text-anchor="middle" style="font-family:'Liberation Sans',sans-serif" >18</text>
<text x="868.0" y="668.6" font-size="14" fill="#333333" stroke="#333333" stroke-width="0.22" text-anchor="middle" style="font-family:'Liberation Sans',sans-serif" >00</text>
<text x="909.0" y="668.6" font-size="14" fill="#333333" stroke="#333333" stroke-width="0.22" text-anchor="middle" style="font-family:'Liberation Sans',sans-serif" >06</text>
<text x="950.0" y="668.6" font-size="14" fill="#333333" stroke="#333333" stroke-width="0.22" text-anchor="middle" style="font-family:'Liberation Sans',sans-serif" >12</text>
<text x="358.5" y="668.6" font-size="14" fill="#333333" stroke="#333333" stroke-width="0.22" text-anchor="end" style="font-family:'Liberation Sans',sans-serif" >UTC</text>
<text x="966.0" y="668.6" font-size="14" fill="#333333" stroke="#333333" stroke-width="0.22" text-anchor="start" style="font-family:'Liberation Sans',sans-serif" >UTC</text>
<text x="458.0" y="683.3" font-size="14" fill="#333333" stroke="#333333" stroke-width="0.22" text-anchor="middle" style="font-family:'Liberation Sans',sans-serif" >30.03</text>
<text x="622.0" y="683.3" font-size="14" fill="#333333" stroke="#333333" stroke-width="0.22" text-anchor="middle" style="font-family:'Liberation Sans',sans-serif" >31.03</text>
<text x="786.0" y="683.3" font-size="14" fill="#333333" stroke="#333333" stroke-width="0.22" text-anchor="middle" style="font-family:'Liberation Sans',sans-serif" >01.04</text>
<text x="950.0" y="683.3" font-size="14" fill="#333333" stroke="#333333" stroke-width="0.22" text-anchor="middle" style="font-family:'Liberation Sans',sans-serif" >02.04</text>
<text x="483.5" y="113.0" font-size="13.2" fill="#33338f" stroke="#33338f" stroke-width="0.22" text-anchor="end" style="font-family:'Liberation Sans',sans-serif" >wschód słońca: 06:11 CEST</text>
<text x="483.5" y="126.0" font-size="13.2" fill="#33338f" stroke="#33338f" stroke-width="0.22" text-anchor="end" style="font-family:'Liberation Sans',sans-serif" >zachód słońca: 18:59 CEST</text>
<text x="663.5" y="113.0" font-size="13.2" fill="#33338f" stroke="#33338f" stroke-width="0.22" text-anchor="middle" style="font-family:'Liberation Sans',sans-serif" >22°8'E, 50°26'N</text>
<text x="663.5" y="126.0" font-size="13.2" fill="#33338f" stroke="#33338f" stroke-width="0.22" text-anchor="middle" style="font-family:'Liberation Sans',sans-serif" >(x=102, y=148)</text>
<text x="1001.5" y="113.0" font-size="13.2" fill="#33338f" stroke="#33338f" stroke-width="0.22" text-anchor="end" style="font-family:'Liberation Sans',sans-serif" >wysokość (min, środek, max)</text>
<text x="916.0" y="126.0" font-size="13.2" fill="#33338f" stroke="#33338f" stroke-width="0.22" text-anchor="middle" style="font-family:'Liberation Sans',sans-serif" >176 - 190 - 206 m</text>
<text x="415.8" y="708.0" font-size="14" fill="#33338f" stroke="#33338f" stroke-width="0.22" text-anchor="middle" style="font-family:'Liberation Sans',sans-serif" >meteo@icm.edu.pl</text>
<text x="838.4" y="707.5" font-size="14" fill="#33338f" stroke="#33338f" stroke-width="0.22" text-anchor="middle" style="font-family:'Liberation Sans',sans-serif" >© 2007-2017 ICM, Uniwersytet Warszawski</text>
<text transform="translate(320,200.6) rotate(-90)" font-size="13" fill="#33338f" stroke="#33338f" stroke-width="0.22" text-anchor="middle" style="font-family:'Liberation Sans',sans-serif">temperatura</text>
<text transform="translate(333,200) rotate(-90)" font-size="13" fill="#33338f" stroke="#33338f" stroke-width="0.22" text-anchor="middle" style="font-family:'Liberation Sans',sans-serif">(°C)</text>
<text transform="translate(320,294.5) rotate(-90)" font-size="13" fill="#33338f" stroke="#33338f" stroke-width="0.22" text-anchor="middle" style="font-family:'Liberation Sans',sans-serif">opad</text>
<text transform="translate(333,295) rotate(-90)" font-size="13" fill="#33338f" stroke="#33338f" stroke-width="0.22" text-anchor="middle" style="font-family:'Liberation Sans',sans-serif">(mm/h, kg/m²/h)</text>
<text transform="translate(320,389) rotate(-90)" font-size="13" fill="#33338f" stroke="#33338f" stroke-width="0.22" text-anchor="middle" style="font-family:'Liberation Sans',sans-serif">ciśnienie</text>
<text transform="translate(333,389) rotate(-90)" font-size="13" fill="#33338f" stroke="#33338f" stroke-width="0.22" text-anchor="middle" style="font-family:'Liberation Sans',sans-serif">(hPa)</text>
<text transform="translate(320,482) rotate(-90)" font-size="13" fill="#33338f" stroke="#33338f" stroke-width="0.22" text-anchor="middle" style="font-family:'Liberation Sans',sans-serif">wiatr</text>
<text transform="translate(333,482) rotate(-90)" font-size="13" fill="#33338f" stroke="#33338f" stroke-width="0.22" text-anchor="middle" style="font-family:'Liberation Sans',sans-serif">(m/s)</text>
<text transform="translate(320,615) rotate(-90)" font-size="13" fill="#33338f" stroke="#33338f" stroke-width="0.22" text-anchor="middle" style="font-family:'Liberation Sans',sans-serif">pion. rozciągł. chm.</text>
<text transform="translate(333,615) rotate(-90)" font-size="13" fill="#33338f" stroke="#33338f" stroke-width="0.22" text-anchor="middle" style="font-family:'Liberation Sans',sans-serif">(km)</text>
<text transform="translate(1014.5,200) rotate(-90)" font-size="13" fill="#33338f" stroke="#33338f" stroke-width="0.22" text-anchor="middle" style="font-family:'Liberation Sans',sans-serif">temperatura</text>
<text transform="translate(1000.5,200) rotate(-90)" font-size="13" fill="#33338f" stroke="#33338f" stroke-width="0.22" text-anchor="middle" style="font-family:'Liberation Sans',sans-serif">(°C)</text>
<text transform="translate(1014.5,295) rotate(-90)" font-size="13" fill="#33338f" stroke="#33338f" stroke-width="0.22" text-anchor="middle" style="font-family:'Liberation Sans',sans-serif">wilgotność wzgl.</text>
<text transform="translate(1000.5,297) rotate(-90)" font-size="13" fill="#33338f" stroke="#33338f" stroke-width="0.22" text-anchor="middle" style="font-family:'Liberation Sans',sans-serif">(%)</text>
<text transform="translate(1014.5,389) rotate(-90)" font-size="13" fill="#33338f" stroke="#33338f" stroke-width="0.22" text-anchor="middle" style="font-family:'Liberation Sans',sans-serif">ciśnienie</text>
<text transform="translate(1000.5,389) rotate(-90)" font-size="13" fill="#33338f" stroke="#33338f" stroke-width="0.22" text-anchor="middle" style="font-family:'Liberation Sans',sans-serif">(mm Hg)</text>
<text transform="translate(1014.5,478) rotate(-90)" font-size="13" fill="#33338f" stroke="#33338f" stroke-width="0.22" text-anchor="middle" style="font-family:'Liberation Sans',sans-serif">wiatr</text>
<text transform="translate(1000.5,478) rotate(-90)" font-size="13" fill="#33338f" stroke="#33338f" stroke-width="0.22" text-anchor="middle" style="font-family:'Liberation Sans',sans-serif">(km/h)</text>
<text transform="translate(1014.5,615.5) rotate(-90)" font-size="13" fill="#33338f" stroke="#33338f" stroke-width="0.22" text-anchor="middle" style="font-family:'Liberation Sans',sans-serif">widzialność</text>
<text transform="translate(1000.5,613) rotate(-90)" font-size="13" fill="#33338f" stroke="#33338f" stroke-width="0.22" text-anchor="middle" style="font-family:'Liberation Sans',sans-serif">(km)</text>
<text x="310.4" y="550.2" font-size="12.5" fill="#33338f" stroke="#33338f" stroke-width="0.22" text-anchor="start" style="font-family:'Liberation Sans',sans-serif" >W</text>
<text x="322.0" y="539.8" font-size="12.5" fill="#33338f" stroke="#33338f" stroke-width="0.22" text-anchor="start" style="font-family:'Liberation Sans',sans-serif" >N</text>
<text x="330.0" y="550.5" font-size="12.5" fill="#33338f" stroke="#33338f" stroke-width="0.22" text-anchor="start" style="font-family:'Liberation Sans',sans-serif" >E</text>
<text x="321.8" y="558.4" font-size="12.5" fill="#33338f" stroke="#33338f" stroke-width="0.22" text-anchor="start" style="font-family:'Liberation Sans',sans-serif" >S</text>
<text x="990.2" y="550.2" font-size="12.5" fill="#33338f" stroke="#33338f" stroke-width="0.22" text-anchor="start" style="font-family:'Liberation Sans',sans-serif" >W</text>
<text x="1001.8" y="539.8" font-size="12.5" fill="#33338f" stroke="#33338f" stroke-width="0.22" text-anchor="start" style="font-family:'Liberation Sans',sans-serif" >N</text>
<text x="1009.8" y="550.5" font-size="12.5" fill="#33338f" stroke="#33338f" stroke-width="0.22" text-anchor="start" style="font-family:'Liberation Sans',sans-serif" >E</text>
<text x="1001.6" y="558.4" font-size="12.5" fill="#33338f" stroke="#33338f" stroke-width="0.22" text-anchor="start" style="font-family:'Liberation Sans',sans-serif" >S</text>
<clipPath id="mT"><rect x="148.0" y="161.5" width="119.0" height="83.5"/></clipPath><g clip-path="url(#mT)">
<rect x="148.00" y="206.60" width="119.00" height="38.40" fill="#4aa8f0" fill-opacity="0.62"/>
<polyline points="148.4,195.0 156.2,201.9 165.0,213.3 172.0,218.5 182.4,219.4 194.7,223.8 206.9,229.0 220.9,232.5 234.9,236.0 248.9,236.0 259.4,235.1 267.2,234.8" fill="none" stroke="#cfe6fb" stroke-opacity="0.8" stroke-width="9" stroke-linejoin="round"/>
<polyline points="148.4,186.2 156.2,188.0 165.0,196.7 173.7,201.0 180.7,202.8 191.2,203.7 203.4,206.3 213.9,208.9 222.7,209.8 231.4,212.4 238.4,215.0 252.4,215.0 261.1,214.2 267.2,212.4" fill="none" stroke="#f9c8c8" stroke-opacity="0.8" stroke-width="7" stroke-linejoin="round"/>
<polyline points="148.4,195.0 156.2,201.9 165.0,213.3 172.0,218.5 182.4,219.4 194.7,223.8 206.9,229.0 220.9,232.5 234.9,236.0 248.9,236.0 259.4,235.1 267.2,234.8" fill="none" stroke="#1010d0" stroke-width="2.6" stroke-linejoin="round"/>
<polyline points="148.4,186.2 156.2,188.0 165.0,196.7 173.7,201.0 180.7,202.8 191.2,203.7 203.4,206.3 213.9,208.9 222.7,209.8 231.4,212.4 238.4,215.0 252.4,215.0 261.1,214.2 267.2,212.4" fill="none" stroke="#d8202a" stroke-width="2.6" stroke-linejoin="round"/>
</g>
<line x1="157.30" y1="161.5" x2="157.30" y2="245" stroke="#000" stroke-width="1.25" stroke-dasharray="2,2.3"/>
<line x1="179.05" y1="161.5" x2="179.05" y2="245" stroke="#000" stroke-width="1.25" stroke-dasharray="2,2.3"/>
<line x1="200.80" y1="161.5" x2="200.80" y2="245" stroke="#000" stroke-width="1.25" stroke-dasharray="2,2.3"/>
<line x1="222.55" y1="161.5" x2="222.55" y2="245" stroke="#000" stroke-width="1.25" stroke-dasharray="2,2.3"/>
<line x1="244.30" y1="161.5" x2="244.30" y2="245" stroke="#000" stroke-width="1.25" stroke-dasharray="2,2.3"/>
<line x1="266.05" y1="161.5" x2="266.05" y2="245" stroke="#000" stroke-width="1.25" stroke-dasharray="2,2.3"/>
<line x1="148.0" y1="171.80" x2="267.0" y2="171.80" stroke="#000" stroke-width="1.25" stroke-dasharray="2,2.3"/>
<line x1="148.0" y1="189.20" x2="267.0" y2="189.20" stroke="#000" stroke-width="1.25" stroke-dasharray="2,2.3"/>
<line x1="148.0" y1="206.60" x2="267.0" y2="206.60" stroke="#000" stroke-width="1.25" stroke-dasharray="2,2.3"/>
<line x1="148.0" y1="224.00" x2="267.0" y2="224.00" stroke="#000" stroke-width="1.25" stroke-dasharray="2,2.3"/>
<line x1="148.0" y1="241.40" x2="267.0" y2="241.40" stroke="#000" stroke-width="1.25" stroke-dasharray="2,2.3"/>
<rect x="148.50" y="162.00" width="119.00" height="83.50" fill="none" stroke="#2a2a2a" stroke-width="1.5"/>
<text x="141.0" y="175.8" font-size="11.5" fill="#3c3c3c" stroke="#3c3c3c" stroke-width="0.22" text-anchor="end" style="font-family:'Liberation Sans',sans-serif" >10</text>
<text x="275.0" y="175.8" font-size="11.5" fill="#3c3c3c" stroke="#3c3c3c" stroke-width="0.22" text-anchor="start" style="font-family:'Liberation Sans',sans-serif" >10</text>
<text x="141.0" y="193.2" font-size="11.5" fill="#3c3c3c" stroke="#3c3c3c" stroke-width="0.22" text-anchor="end" style="font-family:'Liberation Sans',sans-serif" >5</text>
<text x="275.0" y="193.2" font-size="11.5" fill="#3c3c3c" stroke="#3c3c3c" stroke-width="0.22" text-anchor="start" style="font-family:'Liberation Sans',sans-serif" >5</text>
<text x="141.0" y="210.6" font-size="11.5" fill="#3c3c3c" stroke="#3c3c3c" stroke-width="0.22" text-anchor="end" style="font-family:'Liberation Sans',sans-serif" >0</text>
<text x="275.0" y="210.6" font-size="11.5" fill="#3c3c3c" stroke="#3c3c3c" stroke-width="0.22" text-anchor="start" style="font-family:'Liberation Sans',sans-serif" >0</text>
<text x="141.0" y="228.0" font-size="11.5" fill="#3c3c3c" stroke="#3c3c3c" stroke-width="0.22" text-anchor="end" style="font-family:'Liberation Sans',sans-serif" >-5</text>
<text x="275.0" y="228.0" font-size="11.5" fill="#3c3c3c" stroke="#3c3c3c" stroke-width="0.22" text-anchor="start" style="font-family:'Liberation Sans',sans-serif" >-5</text>
<text x="141.0" y="245.4" font-size="11.5" fill="#3c3c3c" stroke="#3c3c3c" stroke-width="0.22" text-anchor="end" style="font-family:'Liberation Sans',sans-serif" >-10</text>
<text x="275.0" y="245.4" font-size="11.5" fill="#3c3c3c" stroke="#3c3c3c" stroke-width="0.22" text-anchor="start" style="font-family:'Liberation Sans',sans-serif" >-10</text>
<rect x="148.00" y="298.50" width="9.50" height="39.00" fill="#14a81c" />
<rect x="157.00" y="256.90" width="7.40" height="80.60" fill="#14a81c" />
<rect x="157.00" y="256.90" width="6.90" height="10.10" fill="#22ee2a" />
<rect x="163.90" y="265.70" width="8.00" height="71.80" fill="#14a81c" />
<rect x="163.90" y="265.70" width="7.50" height="10.10" fill="#1830c8" />
<rect x="171.40" y="299.70" width="8.30" height="37.80" fill="#14a81c" />
<rect x="171.40" y="299.70" width="7.80" height="9.50" fill="#1830c8" />
<rect x="179.20" y="321.10" width="6.80" height="16.40" fill="#14a81c" />
<rect x="179.20" y="321.10" width="6.30" height="3.20" fill="#1830c8" />
<rect x="185.50" y="335.00" width="8.00" height="2.50" fill="#14a81c" />
<polyline points="147.9,285.9 156.6,280.0 164.5,271.3 172.3,266.4 179.1,264.4 201.6,264.4 206.4,260.5 213.3,259.5 219.1,260.5 224.0,266.4 229.9,267.3 238.7,262.5 245.5,260.5 254.3,263.4 261.1,269.3 267.0,276.1" fill="none" stroke="#d9643c" stroke-width="2.4" stroke-linejoin="round"/>
<line x1="157.30" y1="254" x2="157.30" y2="337.5" stroke="#000" stroke-width="1.25" stroke-dasharray="2,2.3"/>
<line x1="179.05" y1="254" x2="179.05" y2="337.5" stroke="#000" stroke-width="1.25" stroke-dasharray="2,2.3"/>
<line x1="200.80" y1="254" x2="200.80" y2="337.5" stroke="#000" stroke-width="1.25" stroke-dasharray="2,2.3"/>
<line x1="222.55" y1="254" x2="222.55" y2="337.5" stroke="#000" stroke-width="1.25" stroke-dasharray="2,2.3"/>
<line x1="244.30" y1="254" x2="244.30" y2="337.5" stroke="#000" stroke-width="1.25" stroke-dasharray="2,2.3"/>
<line x1="266.05" y1="254" x2="266.05" y2="337.5" stroke="#000" stroke-width="1.25" stroke-dasharray="2,2.3"/>
<line x1="148.0" y1="262.10" x2="267.0" y2="262.10" stroke="#000" stroke-width="1.25" stroke-dasharray="2,2.3"/>
<line x1="148.0" y1="280.90" x2="267.0" y2="280.90" stroke="#000" stroke-width="1.25" stroke-dasharray="2,2.3"/>
<line x1="148.0" y1="299.70" x2="267.0" y2="299.70" stroke="#000" stroke-width="1.25" stroke-dasharray="2,2.3"/>
<line x1="148.0" y1="318.50" x2="267.0" y2="318.50" stroke="#000" stroke-width="1.25" stroke-dasharray="2,2.3"/>
<rect x="148.50" y="254.50" width="119.00" height="83.50" fill="none" stroke="#2a2a2a" stroke-width="1.5"/>
<text x="141.0" y="266.1" font-size="11.5" fill="#3c3c3c" stroke="#3c3c3c" stroke-width="0.22" text-anchor="end" style="font-family:'Liberation Sans',sans-serif" >2.0</text>
<text x="276.0" y="266.1" font-size="11.5" fill="#d06030" stroke="#d06030" stroke-width="0.22" text-anchor="start" style="font-family:'Liberation Sans',sans-serif" >96</text>
<text x="141.0" y="284.9" font-size="11.5" fill="#3c3c3c" stroke="#3c3c3c" stroke-width="0.22" text-anchor="end" style="font-family:'Liberation Sans',sans-serif" >1.5</text>
<text x="276.0" y="284.9" font-size="11.5" fill="#d06030" stroke="#d06030" stroke-width="0.22" text-anchor="start" style="font-family:'Liberation Sans',sans-serif" >84</text>
<text x="141.0" y="303.7" font-size="11.5" fill="#3c3c3c" stroke="#3c3c3c" stroke-width="0.22" text-anchor="end" style="font-family:'Liberation Sans',sans-serif" >1.0</text>
<text x="276.0" y="303.7" font-size="11.5" fill="#d06030" stroke="#d06030" stroke-width="0.22" text-anchor="start" style="font-family:'Liberation Sans',sans-serif" >73</text>
<text x="141.0" y="322.5" font-size="11.5" fill="#3c3c3c" stroke="#3c3c3c" stroke-width="0.22" text-anchor="end" style="font-family:'Liberation Sans',sans-serif" >0.5</text>
<text x="276.0" y="322.5" font-size="11.5" fill="#d06030" stroke="#d06030" stroke-width="0.22" text-anchor="start" style="font-family:'Liberation Sans',sans-serif" >61</text>
<text x="141.0" y="341.3" font-size="11.5" fill="#3c3c3c" stroke="#3c3c3c" stroke-width="0.22" text-anchor="end" style="font-family:'Liberation Sans',sans-serif" >0.0</text>
<text x="276.0" y="341.3" font-size="11.5" fill="#d06030" stroke="#d06030" stroke-width="0.22" text-anchor="start" style="font-family:'Liberation Sans',sans-serif" >50</text>
<polygon points="148.0,380.3 156.6,380.9 162.5,375.0 173.2,368.6 179.0,368.6 186.0,364.3 199.6,370.0 208.4,374.0 245.5,374.0 267.0,386.2 267,431 148,431" fill="#ffee00"/>
<rect x="181.00" y="370.00" width="4.50" height="61.00" fill="#ffc010" />
<clipPath id="mP"><polygon points="148.0,380.3 156.6,380.9 162.5,375.0 173.2,368.6 179.0,368.6 186.0,364.3 199.6,370.0 208.4,374.0 245.5,374.0 267.0,386.2 267,431 148,431"/></clipPath>
<polyline points="148.0,380.3 156.6,380.9 162.5,375.0 173.2,368.6 179.0,368.6 186.0,364.3 199.6,370.0 208.4,374.0 245.5,374.0 267.0,386.2" fill="none" stroke="#101010" stroke-width="2.2" stroke-linejoin="round"/>
<line x1="157.30" y1="347.5" x2="157.30" y2="431" stroke="#000" stroke-width="1.25" stroke-dasharray="2,2.3"/>
<line x1="179.05" y1="347.5" x2="179.05" y2="431" stroke="#000" stroke-width="1.25" stroke-dasharray="2,2.3"/>
<line x1="200.80" y1="347.5" x2="200.80" y2="431" stroke="#000" stroke-width="1.25" stroke-dasharray="2,2.3"/>
<line x1="222.55" y1="347.5" x2="222.55" y2="431" stroke="#000" stroke-width="1.25" stroke-dasharray="2,2.3"/>
<line x1="244.30" y1="347.5" x2="244.30" y2="431" stroke="#000" stroke-width="1.25" stroke-dasharray="2,2.3"/>
<line x1="266.05" y1="347.5" x2="266.05" y2="431" stroke="#000" stroke-width="1.25" stroke-dasharray="2,2.3"/>
<line x1="148.0" y1="347.70" x2="267.0" y2="347.70" stroke="#000" stroke-width="1.25" stroke-dasharray="2,2.3"/>
<line x1="148.0" y1="374.50" x2="267.0" y2="374.50" stroke="#000" stroke-width="1.25" stroke-dasharray="2,2.3"/>
<line x1="148.0" y1="400.40" x2="267.0" y2="400.40" stroke="#000" stroke-width="1.25" stroke-dasharray="2,2.3"/>
<line x1="148.0" y1="425.20" x2="267.0" y2="425.20" stroke="#000" stroke-width="1.25" stroke-dasharray="2,2.3"/>
<rect x="148.50" y="348.00" width="119.00" height="83.50" fill="none" stroke="#2a2a2a" stroke-width="1.5"/>
<text x="141.0" y="351.7" font-size="11.5" fill="#3c3c3c" stroke="#3c3c3c" stroke-width="0.22" text-anchor="end" style="font-family:'Liberation Sans',sans-serif" >1018</text>
<text x="275.0" y="351.7" font-size="11.5" fill="#3c3c3c" stroke="#3c3c3c" stroke-width="0.22" text-anchor="start" style="font-family:'Liberation Sans',sans-serif" >1018</text>
<text x="141.0" y="378.5" font-size="11.5" fill="#3c3c3c" stroke="#3c3c3c" stroke-width="0.22" text-anchor="end" style="font-family:'Liberation Sans',sans-serif" >1016</text>
<text x="275.0" y="378.5" font-size="11.5" fill="#3c3c3c" stroke="#3c3c3c" stroke-width="0.22" text-anchor="start" style="font-family:'Liberation Sans',sans-serif" >1016</text>
<text x="141.0" y="404.4" font-size="11.5" fill="#3c3c3c" stroke="#3c3c3c" stroke-width="0.22" text-anchor="end" style="font-family:'Liberation Sans',sans-serif" >1014</text>
<text x="275.0" y="404.4" font-size="11.5" fill="#3c3c3c" stroke="#3c3c3c" stroke-width="0.22" text-anchor="start" style="font-family:'Liberation Sans',sans-serif" >1014</text>
<text x="141.0" y="429.2" font-size="11.5" fill="#3c3c3c" stroke="#3c3c3c" stroke-width="0.22" text-anchor="end" style="font-family:'Liberation Sans',sans-serif" >1012</text>
<text x="275.0" y="429.2" font-size="11.5" fill="#3c3c3c" stroke="#3c3c3c" stroke-width="0.22" text-anchor="start" style="font-family:'Liberation Sans',sans-serif" >1012</text>
<clipPath id="mW"><polygon points="148.0,503.0 156.6,492.0 164.0,477.3 179.0,484.4 185.3,489.0 195.0,489.0 201.0,485.6 208.0,484.4 222.0,474.9 230.0,474.9 245.0,489.0 262.0,489.0 267.0,486.5 267,523.5 148,523.5"/></clipPath><g clip-path="url(#mW)">
<rect x="148.00" y="440.50" width="8.90" height="83.00" fill="#1a5c9a" />
<rect x="156.60" y="440.50" width="7.00" height="83.00" fill="#22c422" />
<rect x="163.30" y="440.50" width="8.30" height="83.00" fill="#44ee22" />
<rect x="171.30" y="440.50" width="14.30" height="83.00" fill="#22c422" />
<rect x="185.30" y="440.50" width="16.20" height="83.00" fill="#0c8a0c" />
<rect x="201.20" y="440.50" width="14.90" height="83.00" fill="#22c422" />
<rect x="215.80" y="440.50" width="22.30" height="83.00" fill="#44ee22" />
<rect x="237.80" y="440.50" width="7.60" height="83.00" fill="#22c422" />
<rect x="245.10" y="440.50" width="22.20" height="83.00" fill="#0c8a0c" />
</g>
<polyline points="148.0,503.0 156.6,492.0 164.0,477.3 179.0,484.4 185.3,489.0 195.0,489.0 201.0,485.6 208.0,484.4 222.0,474.9 230.0,474.9 245.0,489.0 262.0,489.0 267.0,486.5" fill="none" stroke="#1a2470" stroke-width="2.4" stroke-linejoin="round"/>
<line x1="157.30" y1="440.5" x2="157.30" y2="523.5" stroke="#000" stroke-width="1.25" stroke-dasharray="2,2.3"/>
<line x1="179.05" y1="440.5" x2="179.05" y2="523.5" stroke="#000" stroke-width="1.25" stroke-dasharray="2,2.3"/>
<line x1="200.80" y1="440.5" x2="200.80" y2="523.5" stroke="#000" stroke-width="1.25" stroke-dasharray="2,2.3"/>
<line x1="222.55" y1="440.5" x2="222.55" y2="523.5" stroke="#000" stroke-width="1.25" stroke-dasharray="2,2.3"/>
<line x1="244.30" y1="440.5" x2="244.30" y2="523.5" stroke="#000" stroke-width="1.25" stroke-dasharray="2,2.3"/>
<line x1="266.05" y1="440.5" x2="266.05" y2="523.5" stroke="#000" stroke-width="1.25" stroke-dasharray="2,2.3"/>
<line x1="148.0" y1="458.90" x2="267.0" y2="458.90" stroke="#000" stroke-width="1.25" stroke-dasharray="2,2.3"/>
<line x1="148.0" y1="494.00" x2="267.0" y2="494.00" stroke="#000" stroke-width="1.25" stroke-dasharray="2,2.3"/>
<rect x="148.50" y="441.00" width="119.00" height="83.00" fill="none" stroke="#2a2a2a" stroke-width="1.5"/>
<text x="141.0" y="463.0" font-size="11.5" fill="#3c3c3c" stroke="#3c3c3c" stroke-width="0.22" text-anchor="end" style="font-family:'Liberation Sans',sans-serif" >10</text>
<text x="141.0" y="498.0" font-size="11.5" fill="#3c3c3c" stroke="#3c3c3c" stroke-width="0.22" text-anchor="end" style="font-family:'Liberation Sans',sans-serif" >5</text>
<text x="275.0" y="463.0" font-size="11.5" fill="#3c3c3c" stroke="#3c3c3c" stroke-width="0.22" text-anchor="start" style="font-family:'Liberation Sans',sans-serif" >36</text>
<text x="275.0" y="498.0" font-size="11.5" fill="#3c3c3c" stroke="#3c3c3c" stroke-width="0.22" text-anchor="start" style="font-family:'Liberation Sans',sans-serif" >18</text>
<line x1="157.30" y1="530.5" x2="157.30" y2="564.5" stroke="#000" stroke-width="1.25" stroke-dasharray="2,2.3"/>
<line x1="179.05" y1="530.5" x2="179.05" y2="564.5" stroke="#000" stroke-width="1.25" stroke-dasharray="2,2.3"/>
<line x1="200.80" y1="530.5" x2="200.80" y2="564.5" stroke="#000" stroke-width="1.25" stroke-dasharray="2,2.3"/>
<line x1="222.55" y1="530.5" x2="222.55" y2="564.5" stroke="#000" stroke-width="1.25" stroke-dasharray="2,2.3"/>
<line x1="244.30" y1="530.5" x2="244.30" y2="564.5" stroke="#000" stroke-width="1.25" stroke-dasharray="2,2.3"/>
<line x1="266.05" y1="530.5" x2="266.05" y2="564.5" stroke="#000" stroke-width="1.25" stroke-dasharray="2,2.3"/>
<g transform="translate(150.0,545.5) rotate(158)"><line x1="0" y1="8.5" x2="0" y2="-4.5" stroke="#3434a0" stroke-width="1.25"/><polygon points="0,-8.5 -2.9,-3.0 2.9,-3.0" fill="#24249a"/></g>
<g transform="translate(157.2,545.5) rotate(158)"><line x1="0" y1="8.5" x2="0" y2="-4.5" stroke="#3434a0" stroke-width="1.25"/><polygon points="0,-8.5 -2.9,-3.0 2.9,-3.0" fill="#24249a"/></g>
<g transform="translate(164.5,545.5) rotate(158)"><line x1="0" y1="8.5" x2="0" y2="-4.5" stroke="#3434a0" stroke-width="1.25"/><polygon points="0,-8.5 -2.9,-3.0 2.9,-3.0" fill="#24249a"/></g>
<g transform="translate(171.8,545.5) rotate(158)"><line x1="0" y1="8.5" x2="0" y2="-4.5" stroke="#3434a0" stroke-width="1.25"/><polygon points="0,-8.5 -2.9,-3.0 2.9,-3.0" fill="#24249a"/></g>
<g transform="translate(179.0,545.5) rotate(158)"><line x1="0" y1="8.5" x2="0" y2="-4.5" stroke="#3434a0" stroke-width="1.25"/><polygon points="0,-8.5 -2.9,-3.0 2.9,-3.0" fill="#24249a"/></g>
<g transform="translate(186.2,545.5) rotate(158)"><line x1="0" y1="8.5" x2="0" y2="-4.5" stroke="#3434a0" stroke-width="1.25"/><polygon points="0,-8.5 -2.9,-3.0 2.9,-3.0" fill="#24249a"/></g>
<g transform="translate(193.5,545.5) rotate(158)"><line x1="0" y1="8.5" x2="0" y2="-4.5" stroke="#3434a0" stroke-width="1.25"/><polygon points="0,-8.5 -2.9,-3.0 2.9,-3.0" fill="#24249a"/></g>
<g transform="translate(200.8,545.5) rotate(158)"><line x1="0" y1="8.5" x2="0" y2="-4.5" stroke="#3434a0" stroke-width="1.25"/><polygon points="0,-8.5 -2.9,-3.0 2.9,-3.0" fill="#24249a"/></g>
<g transform="translate(208.0,545.5) rotate(158)"><line x1="0" y1="8.5" x2="0" y2="-4.5" stroke="#3434a0" stroke-width="1.25"/><polygon points="0,-8.5 -2.9,-3.0 2.9,-3.0" fill="#24249a"/></g>
<g transform="translate(215.2,545.5) rotate(158)"><line x1="0" y1="8.5" x2="0" y2="-4.5" stroke="#3434a0" stroke-width="1.25"/><polygon points="0,-8.5 -2.9,-3.0 2.9,-3.0" fill="#24249a"/></g>
<g transform="translate(222.5,545.5) rotate(158)"><line x1="0" y1="8.5" x2="0" y2="-4.5" stroke="#3434a0" stroke-width="1.25"/><polygon points="0,-8.5 -2.9,-3.0 2.9,-3.0" fill="#24249a"/></g>
<g transform="translate(229.8,545.5) rotate(158)"><line x1="0" y1="8.5" x2="0" y2="-4.5" stroke="#3434a0" stroke-width="1.25"/><polygon points="0,-8.5 -2.9,-3.0 2.9,-3.0" fill="#24249a"/></g>
<g transform="translate(237.0,545.5) rotate(158)"><line x1="0" y1="8.5" x2="0" y2="-4.5" stroke="#3434a0" stroke-width="1.25"/><polygon points="0,-8.5 -2.9,-3.0 2.9,-3.0" fill="#24249a"/></g>
<g transform="translate(244.2,545.5) rotate(158)"><line x1="0" y1="8.5" x2="0" y2="-4.5" stroke="#3434a0" stroke-width="1.25"/><polygon points="0,-8.5 -2.9,-3.0 2.9,-3.0" fill="#24249a"/></g>
<g transform="translate(251.5,545.5) rotate(158)"><line x1="0" y1="8.5" x2="0" y2="-4.5" stroke="#3434a0" stroke-width="1.25"/><polygon points="0,-8.5 -2.9,-3.0 2.9,-3.0" fill="#24249a"/></g>
<g transform="translate(258.8,545.5) rotate(158)"><line x1="0" y1="8.5" x2="0" y2="-4.5" stroke="#3434a0" stroke-width="1.25"/><polygon points="0,-8.5 -2.9,-3.0 2.9,-3.0" fill="#24249a"/></g>
<g transform="translate(266.0,545.5) rotate(158)"><line x1="0" y1="8.5" x2="0" y2="-4.5" stroke="#3434a0" stroke-width="1.25"/><polygon points="0,-8.5 -2.9,-3.0 2.9,-3.0" fill="#24249a"/></g>
<rect x="148.50" y="531.00" width="119.00" height="34.00" fill="none" stroke="#2a2a2a" stroke-width="1.5"/>
<rect x="148.00" y="571.30" width="119.00" height="84.20" fill="#4aa8f0" fill-opacity="0.62"/>
<line x1="157.30" y1="571.3" x2="157.30" y2="655.5" stroke="#000" stroke-width="1.25" stroke-dasharray="2,2.3"/>
<line x1="179.05" y1="571.3" x2="179.05" y2="655.5" stroke="#000" stroke-width="1.25" stroke-dasharray="2,2.3"/>
<line x1="200.80" y1="571.3" x2="200.80" y2="655.5" stroke="#000" stroke-width="1.25" stroke-dasharray="2,2.3"/>
<line x1="222.55" y1="571.3" x2="222.55" y2="655.5" stroke="#000" stroke-width="1.25" stroke-dasharray="2,2.3"/>
<line x1="244.30" y1="571.3" x2="244.30" y2="655.5" stroke="#000" stroke-width="1.25" stroke-dasharray="2,2.3"/>
<line x1="266.05" y1="571.3" x2="266.05" y2="655.5" stroke="#000" stroke-width="1.25" stroke-dasharray="2,2.3"/>
<line x1="148.0" y1="592.70" x2="267.0" y2="592.70" stroke="#000" stroke-width="1.25" stroke-dasharray="2,2.3"/>
<line x1="148.0" y1="613.60" x2="267.0" y2="613.60" stroke="#000" stroke-width="1.25" stroke-dasharray="2,2.3"/>
<line x1="148.0" y1="634.50" x2="267.0" y2="634.50" stroke="#000" stroke-width="1.25" stroke-dasharray="2,2.3"/>
<circle cx="149.1" cy="585.5" r="2.9" fill="#a83232"/>
<circle cx="149.1" cy="610" r="2.9" fill="#ffffff"/>
<circle cx="156.4" cy="583.1" r="2.9" fill="#a83232"/>
<circle cx="156.4" cy="609" r="2.9" fill="#ffffff"/>
<circle cx="163.7" cy="583.1" r="2.9" fill="#a83232"/>
<circle cx="163.7" cy="609" r="2.9" fill="#ffffff"/>
<circle cx="171.0" cy="583.1" r="2.9" fill="#a83232"/>
<circle cx="171.0" cy="610" r="2.9" fill="#ffffff"/>
<circle cx="178.3" cy="583.1" r="2.9" fill="#a83232"/>
<circle cx="178.3" cy="609" r="2.9" fill="#ffffff"/>
<circle cx="185.6" cy="583.1" r="2.9" fill="#a83232"/>
<circle cx="185.6" cy="609" r="2.9" fill="#ffffff"/>
<circle cx="192.9" cy="583.1" r="2.9" fill="#a83232"/>
<circle cx="192.9" cy="610" r="2.9" fill="#ffffff"/>
<circle cx="200.2" cy="583.1" r="2.9" fill="#a83232"/>
<circle cx="200.2" cy="609" r="2.9" fill="#ffffff"/>
<circle cx="207.5" cy="585.5" r="2.9" fill="#a83232"/>
<circle cx="207.5" cy="609" r="2.9" fill="#ffffff"/>
<circle cx="214.8" cy="583.1" r="2.9" fill="#a83232"/>
<circle cx="214.8" cy="610" r="2.9" fill="#ffffff"/>
<circle cx="222.1" cy="585.5" r="2.9" fill="#a83232"/>
<circle cx="222.1" cy="609" r="2.9" fill="#ffffff"/>
<circle cx="229.4" cy="587.8" r="2.9" fill="#a83232"/>
<circle cx="229.4" cy="609" r="2.9" fill="#ffffff"/>
<circle cx="236.7" cy="585.5" r="2.9" fill="#a83232"/>
<circle cx="236.7" cy="610" r="2.9" fill="#ffffff"/>
<circle cx="244.0" cy="585.5" r="2.9" fill="#a83232"/>
<circle cx="244.0" cy="609" r="2.9" fill="#ffffff"/>
<circle cx="251.3" cy="583.1" r="2.9" fill="#a83232"/>
<circle cx="251.3" cy="609" r="2.9" fill="#ffffff"/>
<circle cx="258.6" cy="583.1" r="2.9" fill="#a83232"/>
<circle cx="258.6" cy="610" r="2.9" fill="#ffffff"/>
<circle cx="265.9" cy="583.1" r="2.9" fill="#a83232"/>
<circle cx="265.9" cy="609" r="2.9" fill="#ffffff"/>
<polyline points="148.2,592.7 156.4,604.5 165.5,611.8 172.7,610.0 180.0,602.7 192.7,581.8 201.8,580.9 229.1,578.7 238.2,580.9 252.7,580.0 267.3,575.5" fill="none" stroke="#e0a040" stroke-width="3" stroke-linejoin="round" stroke-opacity="0.9"/>
<rect x="148.50" y="571.80" width="119.00" height="84.20" fill="none" stroke="#2a2a2a" stroke-width="1.5"/>
<text x="141.0" y="575.3" font-size="11.5" fill="#3c3c3c" stroke="#3c3c3c" stroke-width="0.22" text-anchor="end" style="font-family:'Liberation Sans',sans-serif" >15.0</text>
<text x="276.0" y="575.3" font-size="11.5" fill="#e09030" stroke="#e09030" stroke-width="0.22" text-anchor="start" style="font-family:'Liberation Sans',sans-serif" >100</text>
<text x="141.0" y="596.7" font-size="11.5" fill="#3c3c3c" stroke="#3c3c3c" stroke-width="0.22" text-anchor="end" style="font-family:'Liberation Sans',sans-serif" >7.0</text>
<text x="276.0" y="596.7" font-size="11.5" fill="#e09030" stroke="#e09030" stroke-width="0.22" text-anchor="start" style="font-family:'Liberation Sans',sans-serif" >20</text>
<text x="141.0" y="617.6" font-size="11.5" fill="#3c3c3c" stroke="#3c3c3c" stroke-width="0.22" text-anchor="end" style="font-family:'Liberation Sans',sans-serif" >2.0</text>
<text x="276.0" y="617.6" font-size="11.5" fill="#e09030" stroke="#e09030" stroke-width="0.22" text-anchor="start" style="font-family:'Liberation Sans',sans-serif" >5</text>
<text x="141.0" y="638.5" font-size="11.5" fill="#3c3c3c" stroke="#3c3c3c" stroke-width="0.22" text-anchor="end" style="font-family:'Liberation Sans',sans-serif" >0.5</text>
<text x="276.0" y="638.5" font-size="11.5" fill="#e09030" stroke="#e09030" stroke-width="0.22" text-anchor="start" style="font-family:'Liberation Sans',sans-serif" >1</text>
<text x="141.0" y="659.5" font-size="11.5" fill="#3c3c3c" stroke="#3c3c3c" stroke-width="0.22" text-anchor="end" style="font-family:'Liberation Sans',sans-serif" >0.0</text>
<text x="276.0" y="659.5" font-size="11.5" fill="#e09030" stroke="#e09030" stroke-width="0.22" text-anchor="start" style="font-family:'Liberation Sans',sans-serif" >0</text>
<text x="179.0" y="155.0" font-size="13.5" fill="#3c3c3c" stroke="#3c3c3c" stroke-width="0.22" text-anchor="middle" style="font-family:'Liberation Sans',sans-serif" >20</text>
<text x="222.5" y="155.0" font-size="13.5" fill="#3c3c3c" stroke="#3c3c3c" stroke-width="0.22" text-anchor="middle" style="font-family:'Liberation Sans',sans-serif" >02</text>
<text x="266.0" y="155.0" font-size="13.5" fill="#3c3c3c" stroke="#3c3c3c" stroke-width="0.22" text-anchor="middle" style="font-family:'Liberation Sans',sans-serif" >08</text>
<text x="179.0" y="670.5" font-size="13.5" fill="#3c3c3c" stroke="#3c3c3c" stroke-width="0.22" text-anchor="middle" style="font-family:'Liberation Sans',sans-serif" >18</text>
<text x="222.5" y="670.5" font-size="13.5" fill="#3c3c3c" stroke="#3c3c3c" stroke-width="0.22" text-anchor="middle" style="font-family:'Liberation Sans',sans-serif" >00</text>
<text x="266.0" y="670.5" font-size="13.5" fill="#3c3c3c" stroke="#3c3c3c" stroke-width="0.22" text-anchor="middle" style="font-family:'Liberation Sans',sans-serif" >06</text>
<text x="7.0" y="141.5" font-size="10.8" fill="#3c3c3c" stroke="#3c3c3c" stroke-width="0.2" textLength="65.7" lengthAdjust="spacing" style="font-family:'Liberation Sans',sans-serif">Czas lokalny</text>
<text x="7.4" y="154.4" font-size="10.8" fill="#3c3c3c" stroke="#3c3c3c" stroke-width="0.2" textLength="59.5" lengthAdjust="spacing" style="font-family:'Liberation Sans',sans-serif">(CET/CEST)</text>
<polyline points="74.8,137.6 161.0,137.6 171.0,143.9" fill="none" stroke="#333" stroke-width="1.2"/>
<text x="7.4" y="175.4" font-size="10.8" fill="#222" stroke="#222" stroke-width="0.2" textLength="67.0" lengthAdjust="spacing" style="font-family:'Liberation Sans',sans-serif">Temperatura:</text>
<text x="14.5" y="190.5" font-size="10.8" fill="#e03a3a" stroke="#e03a3a" stroke-width="0.2" textLength="59.6" lengthAdjust="spacing" style="font-family:'Liberation Sans',sans-serif">uśredniona</text>
<polyline points="76.0,187.4 150.0,187.4" fill="none" stroke="#d03030" stroke-width="1.2"/>
<text x="31.3" y="204.7" font-size="10.8" fill="#f4c8c8" stroke="#f4c8c8" stroke-width="0.2" textLength="42.8" lengthAdjust="spacing" style="font-family:'Liberation Sans',sans-serif">max/min</text>
<text x="11.5" y="219.8" font-size="10.8" fill="#3434c4" stroke="#3434c4" stroke-width="0.2" textLength="62.7" lengthAdjust="spacing" style="font-family:'Liberation Sans',sans-serif">odczuwana</text>
<polyline points="76.0,216.5 150.0,216.5" fill="none" stroke="#2020b0" stroke-width="1.2"/>
<text x="31.3" y="234.0" font-size="10.8" fill="#b4d8f2" stroke="#b4d8f2" stroke-width="0.2" textLength="42.8" lengthAdjust="spacing" style="font-family:'Liberation Sans',sans-serif">max/min</text>
<text x="7.4" y="254.3" font-size="10.8" fill="#d06040" stroke="#d06040" stroke-width="0.2" textLength="113.2" lengthAdjust="spacing" style="font-family:'Liberation Sans',sans-serif">Wilgotność względna</text>
<polyline points="124.0,250.4 195.7,250.4 203.5,259.5" fill="none" stroke="#d06040" stroke-width="1.2"/>
<text x="7.0" y="277.0" font-size="10.8" fill="#222" stroke="#222" stroke-width="0.2" textLength="43.9" lengthAdjust="spacing" style="font-family:'Liberation Sans',sans-serif">Deszcz:</text>
<text x="11.5" y="292.0" font-size="10.8" fill="#4ad84a" stroke="#4ad84a" stroke-width="0.2" textLength="69.6" lengthAdjust="spacing" style="font-family:'Liberation Sans',sans-serif">konwekcyjny</text>
<polyline points="84.0,288.8 143.0,288.8 158.6,257.6" fill="none" stroke="#44dd44" stroke-width="1.2"/>
<text x="12.0" y="306.3" font-size="10.8" fill="#2a9a2a" stroke="#2a9a2a" stroke-width="0.2" textLength="77.5" lengthAdjust="spacing" style="font-family:'Liberation Sans',sans-serif">wielkoskalowy</text>
<polyline points="92.0,305.2 150.0,305.2" fill="none" stroke="#229922" stroke-width="1.2"/>
<text x="7.4" y="327.3" font-size="10.8" fill="#4040b0" stroke="#4040b0" stroke-width="0.2" textLength="28.4" lengthAdjust="spacing" style="font-family:'Liberation Sans',sans-serif">Śnieg</text>
<polyline points="38.0,324.8 143.0,324.8 177.0,304.5" fill="none" stroke="#3030b0" stroke-width="1.2"/>
<text x="7.0" y="379.4" font-size="10.8" fill="#3c3c3c" stroke="#3c3c3c" stroke-width="0.2" textLength="46.5" lengthAdjust="spacing" style="font-family:'Liberation Sans',sans-serif">Ciśnienie</text>
<text x="6.1" y="394.0" font-size="10.8" fill="#3c3c3c" stroke="#3c3c3c" stroke-width="0.2" textLength="73.0" lengthAdjust="spacing" style="font-family:'Liberation Sans',sans-serif">zredukowane</text>
<text x="6.1" y="410.0" font-size="10.8" fill="#3c3c3c" stroke="#3c3c3c" stroke-width="0.2" textLength="96.0" lengthAdjust="spacing" style="font-family:'Liberation Sans',sans-serif">do poziomu morza</text>
<polyline points="82.0,390.6 145.0,390.6 150.0,386.0" fill="none" stroke="#333" stroke-width="1.2"/>
<text x="7.0" y="485.2" font-size="10.8" fill="#4040a0" stroke="#4040a0" stroke-width="0.2" textLength="85.5" lengthAdjust="spacing" style="font-family:'Liberation Sans',sans-serif">Prędkość wiatru</text>
<polyline points="95.0,481.6 160.5,481.6" fill="none" stroke="#303090" stroke-width="1.2"/>
<text x="7.0" y="549.0" font-size="10.8" fill="#4040a0" stroke="#4040a0" stroke-width="0.2" textLength="81.7" lengthAdjust="spacing" style="font-family:'Liberation Sans',sans-serif">Kierunek wiatru</text>
<polyline points="91.5,545.6 150.0,545.6" fill="none" stroke="#303090" stroke-width="1.2"/>
<text x="7.2" y="589.0" font-size="10.8" fill="#b04040" stroke="#b04040" stroke-width="0.2" textLength="99.1" lengthAdjust="spacing" style="font-family:'Liberation Sans',sans-serif">Wierzchołek chmur</text>
<polyline points="107.0,585.0 150.0,585.0" fill="none" stroke="#a03030" stroke-width="1.2"/>
<rect x="7.40" y="600.10" width="89.50" height="12.80" fill="#88c4ee" />
<text x="8.2" y="610.5" font-size="10.8" fill="#ffffff" stroke="#ffffff" stroke-width="0.2" textLength="88.3" lengthAdjust="spacing" style="font-family:'Liberation Sans',sans-serif">Podstawa chmur</text>
<polyline points="99.0,606.0 150.0,606.0" fill="none" stroke="#a8d4f4" stroke-width="1.2"/>
<polyline points="99.0,608.2 150.0,608.2" fill="none" stroke="#a8d4f4" stroke-width="1.2"/>
<text x="7.2" y="630.5" font-size="10.8" fill="#e8a050" stroke="#e8a050" stroke-width="0.2" textLength="62.9" lengthAdjust="spacing" style="font-family:'Liberation Sans',sans-serif">Widzialność</text>
<polyline points="72.0,627.6 141.5,627.6 150.0,617.0" fill="none" stroke="#e8a050" stroke-width="1.2"/>
<text x="7.2" y="667.7" font-size="10.8" fill="#3c3c3c" stroke="#3c3c3c" stroke-width="0.2" textLength="94.2" lengthAdjust="spacing" style="font-family:'Liberation Sans',sans-serif">Czas uniwersalny</text>
<text x="7.2" y="680.4" font-size="10.8" fill="#3c3c3c" stroke="#3c3c3c" stroke-width="0.2" textLength="30.2" lengthAdjust="spacing" style="font-family:'Liberation Sans',sans-serif">(UTC)</text>
<polyline points="104.0,665.1 170.0,665.1" fill="none" stroke="#333" stroke-width="1.2"/>
<defs><path id="uwTop" d="M 26,50 A 39 39 0 0 1 104,50"/><path id="uwBot" d="M 24,50 A 41 41 0 0 0 106,50"/></defs>
<text font-size="10" fill="#d0d0d0" style="font-family:'Liberation Serif',serif" letter-spacing="1.7"><textPath href="#uwTop" startOffset="50%" text-anchor="middle">UNIWERSYTET</textPath></text>
<text font-size="10.5" fill="#d0d0d0" style="font-family:'Liberation Serif',serif" letter-spacing="2.3"><textPath href="#uwBot" startOffset="50%" text-anchor="middle">WARSZAWSKI</textPath></text>
<g transform="translate(64.4,20.2)" stroke="#b8b8b8" stroke-width="1.2"><line x1="-2.6" y1="0" x2="2.6" y2="0"/><line x1="0" y1="-2.6" x2="0" y2="2.6"/><line x1="-1.9" y1="-1.9" x2="1.9" y2="1.9"/><line x1="-1.9" y1="1.9" x2="1.9" y2="-1.9"/></g>
<g transform="translate(41.1,39.5)" stroke="#b8b8b8" stroke-width="1.2"><line x1="-2.6" y1="0" x2="2.6" y2="0"/><line x1="0" y1="-2.6" x2="0" y2="2.6"/><line x1="-1.9" y1="-1.9" x2="1.9" y2="1.9"/><line x1="-1.9" y1="1.9" x2="1.9" y2="-1.9"/></g>
<g transform="translate(87.7,38.7)" stroke="#b8b8b8" stroke-width="1.2"><line x1="-2.6" y1="0" x2="2.6" y2="0"/><line x1="0" y1="-2.6" x2="0" y2="2.6"/><line x1="-1.9" y1="-1.9" x2="1.9" y2="1.9"/><line x1="-1.9" y1="1.9" x2="1.9" y2="-1.9"/></g>
<g transform="translate(46.4,67.6)" stroke="#b8b8b8" stroke-width="1.2"><line x1="-2.6" y1="0" x2="2.6" y2="0"/><line x1="0" y1="-2.6" x2="0" y2="2.6"/><line x1="-1.9" y1="-1.9" x2="1.9" y2="1.9"/><line x1="-1.9" y1="1.9" x2="1.9" y2="-1.9"/></g>
<g transform="translate(81.5,67.6)" stroke="#b8b8b8" stroke-width="1.2"><line x1="-2.6" y1="0" x2="2.6" y2="0"/><line x1="0" y1="-2.6" x2="0" y2="2.6"/><line x1="-1.9" y1="-1.9" x2="1.9" y2="1.9"/><line x1="-1.9" y1="1.9" x2="1.9" y2="-1.9"/></g>
<g fill="#bdbdbd"><path d="M 48,23 C 44,30 43.5,40 46,47 C 49,54 54,58 59,59 L 60,46 C 56,41 52,36 50,30 Z"/><path d="M 81,23 C 85,30 85.5,40 83,47 C 80,54 75,58 70,59 L 69,46 C 73,41 77,36 79,30 Z"/><path d="M 59.5,28 L 61.5,26 L 64.5,27.5 L 67.5,26 L 69.5,28 L 69,32 L 60,32 Z"/><ellipse cx="64.5" cy="36" rx="3.8" ry="3.6"/><path d="M 57,40 Q 64.5,35 72,40 L 73,57 Q 64.5,64 56,57 Z"/><path d="M 58,60 L 60.5,74 L 64.5,76.5 L 68.5,74 L 71,60 Z"/><path d="M 37.5,50 C 42,48 48,52 52,57 L 55,62 C 50,62 41,58 37.5,50 Z"/><path d="M 91,52 C 87,50 81,54 77,59 L 74,63 C 79,63 87,60 91,52 Z"/></g>
<g stroke="#1a1a1a" stroke-width="0.7" fill="none" opacity="0.85"><path d="M 49,29 L 57,47 M 46.5,37 L 56,52 M 80,29 L 72,47 M 82.5,37 L 73,52"/><path d="M 60,44 L 69,44 M 59,49 L 70,49 M 59,54 L 70,54 M 62,62 L 62,73 M 64.5,62 L 64.5,75 M 67,62 L 67,73"/><path d="M 42,52 L 51,59 M 87,54 L 78,60"/></g>
<g fill="#ffffff"><path d="M 146,26 C 156,10 172,2 180,3 C 190,4 193,14 190,28 C 186,46 176,64 164,74 C 170,62 180,46 183,30 C 186,16 183,8 177,8 C 168,8 156,16 146,26 Z"/><path d="M 165,73 C 158,82 150,90 144,89 C 136,88 133,78 134,66 C 136,76 140,84 146,84 C 152,84 159,79 165,73 Z"/><path d="M 160,31 C 145,29 128,34 124,44 C 121,54 134,66 158,72 C 164,73 170,73 175,73 C 160,70 140,62 132,52 C 127,44 134,35 160,31 Z"/><circle cx="169" cy="33.5" r="5.6"/><rect x="164.5" y="41" width="11" height="31.5"/><path d="M 211,45 C 207,41.5 203,40 198.5,40 C 190,40 185.5,47.5 185.5,56.2 C 185.5,65 190,72.5 198.5,72.5 C 203,72.5 207,71 211,67.5 L 207.5,61 C 205,63.5 202.5,64.5 199.5,64.5 C 195.5,64.5 194.5,60 194.5,56.2 C 194.5,52.5 195.5,48 199.5,48 C 202.5,48 205,49 207.5,51.5 Z"/><path d="M 213.8,72.3 L 213.8,40.8 L 223.5,40.8 L 223.5,44.5 C 225.5,41.5 228.5,40 232,40 C 236,40 239.5,42 241,45 C 243.5,41.5 247,40 251,40 C 257.5,40 261.2,44.5 261.2,51 L 261.2,72.3 L 251.5,72.3 L 251.5,53 C 251.5,50 250,48.5 247.5,48.5 C 244.5,48.5 242.5,50.5 242.5,54 L 242.5,72.3 L 232.5,72.3 L 232.5,53 C 232.5,50 231,48.5 228.5,48.5 C 225.5,48.5 223.5,50.5 223.5,54 L 223.5,72.3 Z"/></g>
<text x="310" y="43" font-size="34" font-weight="bold" fill="#cfe6a0" style="font-family:'Liberation Serif',serif">COAMPS</text>
<text x="310" y="71.7" font-size="20.5" font-weight="bold" fill="#ffffff" textLength="373" lengthAdjust="spacingAndGlyphs" style="font-family:'Liberation Serif',serif">Jeżowe, pow.niżański, woj.podkarpackie</text>
<rect x="894.00" y="8.50" width="49.00" height="43.50" fill="#dcebc8" />
<g><polygon points="900.5,19 903,16 924,17.5 937.5,24 936.5,37 928,40.5 910,46.5 901,33" fill="#9e2c3a"/><polygon points="901,18.5 906,14.8 921,15.3 926,19.3 937.5,24.3 918,29.5 901,22.5" fill="#e6c860"/><polygon points="906,16 918,15.2 924,19 912,21.2" fill="#f6eec8"/><polygon points="901,22.5 918,29.5 937.5,24.3 937.5,27 918,32 901,25" fill="#c85a3c"/></g>
<rect x="959.00" y="8.50" width="49.00" height="43.50" fill="#dcebc8" />
<ellipse cx="983" cy="30" rx="19" ry="16" fill="#ffffff"/>
<path d="M 974.5,21 L 991.5,38 M 991.5,21 L 974.5,38" stroke="#e8941c" stroke-width="2.3" stroke-linecap="round"/>
</svg></body></html>
